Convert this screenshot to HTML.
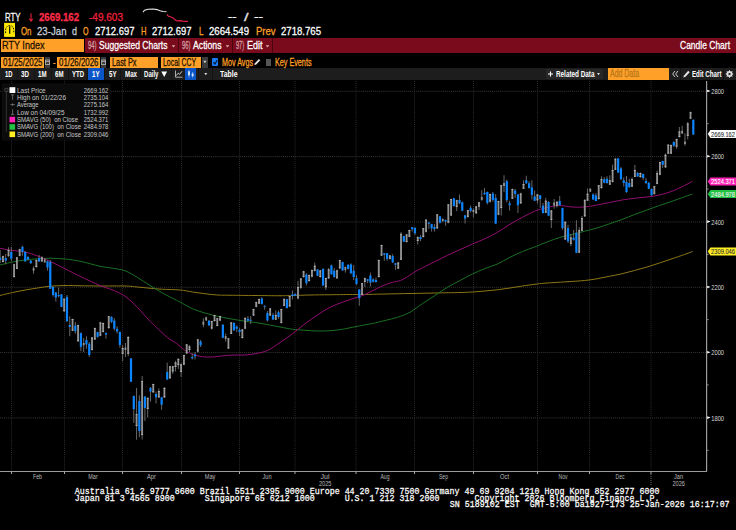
<!DOCTYPE html>
<html><head><meta charset="utf-8"><title>RTY Index - Candle Chart</title><style>
html,body{margin:0;padding:0;background:#000;}
body{width:736px;height:530px;overflow:hidden;position:relative;font-family:"Liberation Sans",sans-serif;}
.t{position:absolute;white-space:pre;transform-origin:0 0;line-height:1;display:block;-webkit-text-stroke:0.28px currentColor;}
.b{position:absolute;}
.f{position:absolute;margin:0;font-family:"Liberation Mono",monospace;font-size:8.33px;line-height:1;color:#fff;white-space:pre;transform-origin:0 80%;transform:scaleY(1.16);-webkit-text-stroke:0.22px #fff;}
</style></head>
<body>
<div class="b" style="left:0px;top:38.2px;width:736px;height:14.5px;background:#7a0b1c;"></div>
<div class="b" style="left:0px;top:38.2px;width:85px;height:14.5px;background:#000;"></div>
<div class="b" style="left:1px;top:39px;width:83.3px;height:13px;background:#ffa028;"></div>
<div class="b" style="left:178px;top:38.2px;width:1px;height:14.5px;background:#4a060f;"></div>
<div class="b" style="left:232px;top:38.2px;width:1px;height:14.5px;background:#4a060f;"></div>
<div class="b" style="left:272px;top:38.2px;width:1px;height:14.5px;background:#4a060f;"></div>
<div class="b" style="left:1px;top:56.5px;width:43.2px;height:11px;background:#ffa028;"></div>
<div class="b" style="left:44.9px;top:56.5px;width:5.3px;height:11px;background:#3a3a3a;"></div>
<div class="b" style="left:57px;top:56.5px;width:43.3px;height:11px;background:#ffa028;"></div>
<div class="b" style="left:101px;top:56.5px;width:5.3px;height:11px;background:#3a3a3a;"></div>
<div class="b" style="left:110.3px;top:56.5px;width:47.8px;height:11px;background:#ffa028;"></div>
<div class="b" style="left:161px;top:56.5px;width:40.2px;height:11px;background:#ffa028;"></div>
<div class="b" style="left:202px;top:56.5px;width:5.8px;height:11px;background:#3c3c3c;"></div>
<div class="b" style="left:212.1px;top:58.4px;width:6.2px;height:7.4px;background:#1a7cf4;border-radius:1px;"></div>
<div class="b" style="left:265.7px;top:58.8px;width:5.5px;height:7px;background:#565656;"></div>
<div class="b" style="left:0px;top:68.2px;width:736px;height:11.6px;background:#1d1d1d;"></div>
<div class="b" style="left:16.5px;top:68.2px;width:1px;height:11.6px;background:#141414;"></div>
<div class="b" style="left:33.5px;top:68.2px;width:1px;height:11.6px;background:#141414;"></div>
<div class="b" style="left:50.5px;top:68.2px;width:1px;height:11.6px;background:#141414;"></div>
<div class="b" style="left:67.5px;top:68.2px;width:1px;height:11.6px;background:#141414;"></div>
<div class="b" style="left:87px;top:68.2px;width:1px;height:11.6px;background:#141414;"></div>
<div class="b" style="left:104px;top:68.2px;width:1px;height:11.6px;background:#141414;"></div>
<div class="b" style="left:120px;top:68.2px;width:1px;height:11.6px;background:#141414;"></div>
<div class="b" style="left:140px;top:68.2px;width:1px;height:11.6px;background:#141414;"></div>
<div class="b" style="left:171px;top:68.2px;width:1px;height:11.6px;background:#141414;"></div>
<div class="b" style="left:198px;top:68.2px;width:1px;height:11.6px;background:#141414;"></div>
<div class="b" style="left:212px;top:68.2px;width:1px;height:11.6px;background:#141414;"></div>
<div class="b" style="left:88px;top:68.2px;width:15.7px;height:11.6px;background:#0a55c8;"></div>
<div class="b" style="left:185px;top:68.2px;width:11.3px;height:11.6px;background:#0a55c8;"></div>
<div class="b" style="left:545.5px;top:68.6px;width:57px;height:10.8px;background:#272727;"></div>
<div class="b" style="left:608px;top:68.4px;width:61px;height:11.2px;background:#ffa028;"></div>
<div class="b" style="left:679.5px;top:68.2px;width:1px;height:11.6px;background:#141414;"></div>
<div class="b" style="left:723px;top:68.2px;width:1px;height:11.6px;background:#141414;"></div>
<svg width="736" height="530" viewBox="0 0 736 530" style="position:absolute;left:0;top:0">
<path d="M31 13.2V20.8M29.2 18.8L31 21.2L32.8 18.8" stroke="#f0203c" stroke-width="1.05" fill="none"/>
<polyline points="143,12.3 144.5,10.2 148,9.3 153,9 157,9.6 160,10.8 163,11.5 166.5,11.7" fill="none" stroke="#e8e8e8" stroke-width="1.1"/>
<polyline points="167,14.5 168.5,16.3 171,17 173.5,18.2 175,19.8 177,21 180,20.6 183,21.1 188,21.3" fill="none" stroke="#e8204a" stroke-width="1.2"/>
<rect x="4.1" y="22.9" width="10.9" height="14" fill="#ffe800"/>
<path d="M9.7 26.3V33.8" stroke="#111" stroke-width="1.3" fill="none"/>
<path d="M5.6 33V30.5C5.6 27.5 7.2 25.5 9.7 25.5C12.2 25.5 13.8 27.5 13.8 30.5V33.6" stroke="#111" stroke-width="1" stroke-dasharray="1.6 1.2" fill="none"/>
<path d="M171.7 45.2h3.6l-1.8 2.4z" fill="#d8b0b6"/>
<path d="M225.7 45.2h3.6l-1.8 2.4z" fill="#d8b0b6"/>
<path d="M265.7 45.2h3.6l-1.8 2.4z" fill="#d8b0b6"/>
<rect x="45.6" y="60" width="3.8" height="4.6" fill="none" stroke="#bdbdbd" stroke-width="0.8"/><path d="M45.6 61.6h3.8" stroke="#bdbdbd" stroke-width="0.8"/>
<rect x="101.7" y="60" width="3.8" height="4.6" fill="none" stroke="#bdbdbd" stroke-width="0.8"/><path d="M101.7 61.6h3.8" stroke="#bdbdbd" stroke-width="0.8"/>
<path d="M203.3 60.8h3.2l-1.6 2.4z" fill="#d0d0d0"/>
<path d="M213.4 62.2l1.5 1.8l2.4-4" stroke="#06122e" stroke-width="1.1" fill="none"/>
<path d="M254.3 65.2l0.6-2l4-4.2l1.4 1.3l-4 4.2z" fill="#e6e6e6"/>
<path d="M161.3 71.5h5.8l-2.9 5.6z" fill="#fff"/>
<path d="M175.5 70.5V77.2H182.5" stroke="#bbb" stroke-width="0.9" fill="none"/><path d="M176.3 75.5l2-2.4l1.3 1.2l2.4-3" stroke="#ddd" stroke-width="0.9" fill="none"/>
<path d="M189 70v7.6M192.6 72v5.6" stroke="#9cc4ff" stroke-width="0.7"/><rect x="188" y="71.3" width="2" height="4" fill="#cfe2ff"/><rect x="191.7" y="73.6" width="1.9" height="2.6" fill="#cfe2ff"/>
<path d="M204.3 73h3l-1.5 2.3z" fill="#ddd"/>
<path d="M548 74h5M550.5 71.4v5.2" stroke="#fff" stroke-width="1.1"/>
<path d="M597 73h3l-1.5 2.3z" fill="#ddd"/>
<path d="M675 71l-2.3 3l2.3 3M678 71l-2.3 3l2.3 3" stroke="#e0e0e0" stroke-width="0.9" fill="none"/>
<path d="M683.3 77.6l0.7-2.2l4.2-4.6l1.5 1.4l-4.2 4.6z" fill="#e6e6e6"/>
<circle cx="729.5" cy="74" r="2.3" fill="none" stroke="#e0e0e0" stroke-width="1.5"/><path d="M729.5 70.2v7.6M725.7 74h7.6M726.8 71.3l5.4 5.4M732.2 71.3l-5.4 5.4" stroke="#e0e0e0" stroke-width="0.9"/><circle cx="729.5" cy="74" r="1" fill="#1e1e1e"/>
<path d="M0 91.3H706" stroke="#383836" stroke-width="1" stroke-dasharray="1 1.05"/>
<path d="M0 156.62H706" stroke="#383836" stroke-width="1" stroke-dasharray="1 1.05"/>
<path d="M0 221.94H706" stroke="#383836" stroke-width="1" stroke-dasharray="1 1.05"/>
<path d="M0 287.26H706" stroke="#383836" stroke-width="1" stroke-dasharray="1 1.05"/>
<path d="M0 352.58H706" stroke="#383836" stroke-width="1" stroke-dasharray="1 1.05"/>
<path d="M0 417.9H706" stroke="#383836" stroke-width="1" stroke-dasharray="1 1.05"/>
<path d="M11.5 81V471" stroke="#2a2a30" stroke-width="1" stroke-dasharray="1 1.05"/>
<path d="M11.5 471V474" stroke="#aaa" stroke-width="1"/>
<path d="M64.5 81V471" stroke="#2a2a30" stroke-width="1" stroke-dasharray="1 1.05"/>
<path d="M64.5 471V474" stroke="#aaa" stroke-width="1"/>
<path d="M122.5 81V471" stroke="#2a2a30" stroke-width="1" stroke-dasharray="1 1.05"/>
<path d="M122.5 471V474" stroke="#aaa" stroke-width="1"/>
<path d="M181.5 81V471" stroke="#2a2a30" stroke-width="1" stroke-dasharray="1 1.05"/>
<path d="M181.5 471V474" stroke="#aaa" stroke-width="1"/>
<path d="M239.5 81V471" stroke="#2a2a30" stroke-width="1" stroke-dasharray="1 1.05"/>
<path d="M239.5 471V474" stroke="#aaa" stroke-width="1"/>
<path d="M295 81V471" stroke="#2a2a30" stroke-width="1" stroke-dasharray="1 1.05"/>
<path d="M295 471V474" stroke="#aaa" stroke-width="1"/>
<path d="M356 81V471" stroke="#2a2a30" stroke-width="1" stroke-dasharray="1 1.05"/>
<path d="M356 471V474" stroke="#aaa" stroke-width="1"/>
<path d="M414.5 81V471" stroke="#2a2a30" stroke-width="1" stroke-dasharray="1 1.05"/>
<path d="M414.5 471V474" stroke="#aaa" stroke-width="1"/>
<path d="M473.5 81V471" stroke="#2a2a30" stroke-width="1" stroke-dasharray="1 1.05"/>
<path d="M473.5 471V474" stroke="#aaa" stroke-width="1"/>
<path d="M537.5 81V471" stroke="#2a2a30" stroke-width="1" stroke-dasharray="1 1.05"/>
<path d="M537.5 471V474" stroke="#aaa" stroke-width="1"/>
<path d="M589.5 81V471" stroke="#2a2a30" stroke-width="1" stroke-dasharray="1 1.05"/>
<path d="M589.5 471V474" stroke="#aaa" stroke-width="1"/>
<path d="M651 81V471" stroke="#2a2a30" stroke-width="1" stroke-dasharray="1 1.05"/>
<path d="M651 471V474" stroke="#aaa" stroke-width="1"/>
<path d="M651 474V485" stroke="#666" stroke-width="1" stroke-dasharray="1 1"/>
<path d="M706.6 81V471.5" stroke="#9c9c9c" stroke-width="1.2"/>
<path d="M0 471.5H707" stroke="#9c9c9c" stroke-width="1.1"/>
<path d="M707.2 89.7v2.6l3.4-1.3z" fill="#fff"/>
<text x="711.2" y="93.9" font-size="7.5" fill="#d8d8d8" textLength="12.9" lengthAdjust="spacingAndGlyphs">2800</text>
<path d="M707.2 155.0v2.6l3.4-1.3z" fill="#fff"/>
<text x="711.2" y="159.2" font-size="7.5" fill="#d8d8d8" textLength="12.9" lengthAdjust="spacingAndGlyphs">2600</text>
<path d="M707.2 220.3v2.6l3.4-1.3z" fill="#fff"/>
<text x="711.2" y="224.5" font-size="7.5" fill="#d8d8d8" textLength="12.9" lengthAdjust="spacingAndGlyphs">2400</text>
<path d="M707.2 285.7v2.6l3.4-1.3z" fill="#fff"/>
<text x="711.2" y="289.9" font-size="7.5" fill="#d8d8d8" textLength="12.9" lengthAdjust="spacingAndGlyphs">2200</text>
<path d="M707.2 351.0v2.6l3.4-1.3z" fill="#fff"/>
<text x="711.2" y="355.2" font-size="7.5" fill="#d8d8d8" textLength="12.9" lengthAdjust="spacingAndGlyphs">2000</text>
<path d="M707.2 416.3v2.6l3.4-1.3z" fill="#fff"/>
<text x="711.2" y="420.5" font-size="7.5" fill="#d8d8d8" textLength="12.9" lengthAdjust="spacingAndGlyphs">1800</text>
<path d="M707 123.7h1.6" stroke="#aaa" stroke-width="0.8"/>
<path d="M707 189.0h1.6" stroke="#aaa" stroke-width="0.8"/>
<path d="M707 254.3h1.6" stroke="#aaa" stroke-width="0.8"/>
<path d="M707 319.6h1.6" stroke="#aaa" stroke-width="0.8"/>
<path d="M707 384.9h1.6" stroke="#aaa" stroke-width="0.8"/>
<path d="M707 450.3h1.6" stroke="#aaa" stroke-width="0.8"/>
<path d="M0.00 295.50C2.08 295.00 8.33 293.42 12.50 292.50C16.67 291.58 20.83 290.75 25.00 290.00C29.17 289.25 33.33 288.62 37.50 288.00C41.67 287.38 45.42 286.67 50.00 286.25C54.58 285.83 60.00 285.58 65.00 285.50C70.00 285.42 74.17 285.67 80.00 285.75C85.83 285.83 92.50 285.96 100.00 286.00C107.50 286.04 118.75 285.83 125.00 286.00C131.25 286.17 133.33 286.62 137.50 287.00C141.67 287.38 145.83 287.88 150.00 288.25C154.17 288.62 157.50 288.96 162.50 289.25C167.50 289.54 175.00 289.54 180.00 290.00C185.00 290.46 188.33 291.38 192.50 292.00C196.67 292.62 200.83 293.25 205.00 293.75C209.17 294.25 213.33 294.75 217.50 295.00C221.67 295.25 223.75 295.17 230.00 295.25C236.25 295.33 246.67 295.42 255.00 295.50C263.33 295.58 273.75 295.75 280.00 295.75C286.25 295.75 287.50 295.62 292.50 295.50C297.50 295.38 303.75 295.12 310.00 295.00C316.25 294.88 322.50 294.83 330.00 294.75C337.50 294.67 349.33 294.54 355.00 294.50C360.67 294.46 359.00 294.58 364.00 294.50C369.00 294.42 377.33 294.17 385.00 294.00C392.67 293.83 401.67 293.67 410.00 293.50C418.33 293.33 426.67 293.17 435.00 293.00C443.33 292.83 453.75 292.67 460.00 292.50C466.25 292.33 468.33 292.25 472.50 292.00C476.67 291.75 480.83 291.38 485.00 291.00C489.17 290.62 493.33 290.25 497.50 289.75C501.67 289.25 505.83 288.62 510.00 288.00C514.17 287.38 518.33 286.62 522.50 286.00C526.67 285.38 531.42 284.71 535.00 284.25C538.58 283.79 540.67 283.54 544.00 283.25C547.33 282.96 551.17 282.75 555.00 282.50C558.83 282.25 562.08 282.08 567.00 281.75C571.92 281.42 579.50 281.00 584.50 280.50C589.50 280.00 592.83 279.46 597.00 278.75C601.17 278.04 605.33 277.08 609.50 276.25C613.67 275.42 617.83 274.71 622.00 273.75C626.17 272.79 630.33 271.62 634.50 270.50C638.67 269.38 642.83 268.25 647.00 267.00C651.17 265.75 655.33 264.38 659.50 263.00C663.67 261.62 667.83 260.17 672.00 258.75C676.17 257.33 681.08 255.71 684.50 254.50C687.92 253.29 691.17 252.00 692.50 251.50" fill="none" stroke="#8c7614" stroke-width="1" stroke-linejoin="round"/>
<path d="M0.00 265.00C2.08 264.50 8.33 262.83 12.50 262.00C16.67 261.17 20.83 260.54 25.00 260.00C29.17 259.46 33.33 259.04 37.50 258.75C41.67 258.46 45.42 258.21 50.00 258.25C54.58 258.29 60.00 258.50 65.00 259.00C70.00 259.50 74.17 260.04 80.00 261.25C85.83 262.46 94.58 265.08 100.00 266.25C105.42 267.42 108.33 267.50 112.50 268.25C116.67 269.00 120.83 269.21 125.00 270.75C129.17 272.29 133.33 275.04 137.50 277.50C141.67 279.96 145.83 282.92 150.00 285.50C154.17 288.08 158.33 290.67 162.50 293.00C166.67 295.33 172.08 298.00 175.00 299.50C177.92 301.00 177.08 300.46 180.00 302.00C182.92 303.54 188.33 306.92 192.50 308.75C196.67 310.58 200.83 311.75 205.00 313.00C209.17 314.25 213.33 315.29 217.50 316.25C221.67 317.21 225.42 317.92 230.00 318.75C234.58 319.58 240.00 320.50 245.00 321.25C250.00 322.00 254.17 322.29 260.00 323.25C265.83 324.21 274.58 326.00 280.00 327.00C285.42 328.00 288.33 328.71 292.50 329.25C296.67 329.79 300.83 329.96 305.00 330.25C309.17 330.54 313.33 330.92 317.50 331.00C321.67 331.08 325.83 331.04 330.00 330.75C334.17 330.46 338.33 329.92 342.50 329.25C346.67 328.58 351.42 327.46 355.00 326.75C358.58 326.04 361.08 325.54 364.00 325.00C366.92 324.46 369.00 324.25 372.50 323.50C376.00 322.75 380.83 321.54 385.00 320.50C389.17 319.46 393.33 318.62 397.50 317.25C401.67 315.88 405.83 314.54 410.00 312.25C414.17 309.96 418.33 306.29 422.50 303.50C426.67 300.71 430.83 298.21 435.00 295.50C439.17 292.79 443.33 289.75 447.50 287.25C451.67 284.75 455.83 282.71 460.00 280.50C464.17 278.29 468.33 276.00 472.50 274.00C476.67 272.00 480.83 270.17 485.00 268.50C489.17 266.83 493.33 265.88 497.50 264.00C501.67 262.12 505.83 259.33 510.00 257.25C514.17 255.17 518.42 253.21 522.50 251.50C526.58 249.79 530.42 248.58 534.50 247.00C538.58 245.42 542.83 243.58 547.00 242.00C551.17 240.42 555.33 238.75 559.50 237.50C563.67 236.25 567.83 235.54 572.00 234.50C576.17 233.46 580.33 232.33 584.50 231.25C588.67 230.17 592.83 229.25 597.00 228.00C601.17 226.75 605.33 225.17 609.50 223.75C613.67 222.33 617.83 221.04 622.00 219.50C626.17 217.96 630.33 216.08 634.50 214.50C638.67 212.92 642.83 211.50 647.00 210.00C651.17 208.50 655.33 206.96 659.50 205.50C663.67 204.04 667.83 202.71 672.00 201.25C676.17 199.79 681.08 197.96 684.50 196.75C687.92 195.54 691.17 194.46 692.50 194.00" fill="none" stroke="#197022" stroke-width="1" stroke-linejoin="round"/>
<path d="M0.00 248.30C1.88 248.63 7.08 249.68 11.25 250.30C15.42 250.92 20.62 251.05 25.00 252.00C29.38 252.95 33.33 254.46 37.50 256.00C41.67 257.54 45.42 259.12 50.00 261.25C54.58 263.38 60.00 266.25 65.00 268.75C70.00 271.25 74.17 273.46 80.00 276.25C85.83 279.04 94.58 283.21 100.00 285.50C105.42 287.79 108.33 288.21 112.50 290.00C116.67 291.79 120.83 293.33 125.00 296.25C129.17 299.17 133.33 303.33 137.50 307.50C141.67 311.67 146.46 317.58 150.00 321.25C153.54 324.92 155.83 326.77 158.75 329.50C161.67 332.23 164.58 335.31 167.50 337.60C170.42 339.89 173.92 341.58 176.25 343.25C178.58 344.92 179.62 346.14 181.50 347.60C183.38 349.06 185.46 350.81 187.50 352.00C189.54 353.19 191.25 353.96 193.75 354.75C196.25 355.54 199.38 356.38 202.50 356.75C205.62 357.12 209.38 357.12 212.50 357.00C215.62 356.88 218.00 356.32 221.25 356.00C224.50 355.68 228.04 355.27 232.00 355.10C235.96 354.93 241.17 355.23 245.00 355.00C248.83 354.77 251.25 354.50 255.00 353.75C258.75 353.00 263.33 352.38 267.50 350.50C271.67 348.62 275.83 345.29 280.00 342.50C284.17 339.71 288.33 336.88 292.50 333.75C296.67 330.62 300.83 326.88 305.00 323.75C309.17 320.62 313.33 317.74 317.50 315.00C321.67 312.26 325.83 309.43 330.00 307.30C334.17 305.17 338.33 303.75 342.50 302.20C346.67 300.65 351.25 299.28 355.00 298.00C358.75 296.72 361.25 296.12 365.00 294.50C368.75 292.88 373.33 290.17 377.50 288.25C381.67 286.33 386.46 284.21 390.00 283.00C393.54 281.79 396.25 281.79 398.75 281.00C401.25 280.21 402.29 279.79 405.00 278.25C407.71 276.71 412.08 273.49 415.00 271.75C417.92 270.01 419.17 269.51 422.50 267.80C425.83 266.09 430.83 263.58 435.00 261.50C439.17 259.42 443.33 257.28 447.50 255.30C451.67 253.32 455.83 251.48 460.00 249.60C464.17 247.72 468.33 245.82 472.50 244.00C476.67 242.18 480.83 240.66 485.00 238.70C489.17 236.74 493.33 234.66 497.50 232.25C501.67 229.84 505.83 226.75 510.00 224.25C514.17 221.75 518.42 219.42 522.50 217.25C526.58 215.08 530.42 212.88 534.50 211.25C538.58 209.62 542.83 208.46 547.00 207.50C551.17 206.54 555.33 205.58 559.50 205.50C563.67 205.42 567.83 206.75 572.00 207.00C576.17 207.25 580.33 207.33 584.50 207.00C588.67 206.67 592.83 205.75 597.00 205.00C601.17 204.25 605.33 203.33 609.50 202.50C613.67 201.67 617.83 200.71 622.00 200.00C626.17 199.29 630.33 198.75 634.50 198.25C638.67 197.75 642.83 197.54 647.00 197.00C651.17 196.46 655.33 195.96 659.50 195.00C663.67 194.04 667.83 192.83 672.00 191.25C676.17 189.67 681.08 187.17 684.50 185.50C687.92 183.83 691.17 181.96 692.50 181.25" fill="none" stroke="#920e72" stroke-width="1" stroke-linejoin="round"/>
<path d="M0.17 250.0V263.0" stroke="#737373" stroke-width="0.9"/>
<rect x="-0.93" y="257.5" width="2.2" height="2.50" fill="#0a84ff"/>
<path d="M2.95 255.6V262.5" stroke="#737373" stroke-width="0.9"/>
<rect x="2.05" y="256.25" width="1.8" height="5.65" fill="#939393"/>
<rect x="2.05" y="256.25" width="1.8" height="0.9" fill="#b2b2b2"/>
<rect x="2.05" y="261.00" width="1.8" height="0.9" fill="#b2b2b2"/>
<path d="M5.74 253.75V264.4" stroke="#737373" stroke-width="0.9"/>
<rect x="4.64" y="258.1" width="2.2" height="2.50" fill="#0a84ff"/>
<path d="M8.52 247.25V256.9" stroke="#737373" stroke-width="0.9"/>
<rect x="7.62" y="250.0" width="1.8" height="5.60" fill="#939393"/>
<rect x="7.62" y="250.0" width="1.8" height="0.9" fill="#b2b2b2"/>
<rect x="7.62" y="254.70" width="1.8" height="0.9" fill="#b2b2b2"/>
<path d="M11.30 246.9V261.25" stroke="#737373" stroke-width="0.9"/>
<rect x="10.20" y="251.9" width="2.2" height="6.85" fill="#0a84ff"/>
<path d="M14.09 263.75V277.5" stroke="#737373" stroke-width="0.9"/>
<rect x="13.19" y="264.4" width="1.8" height="12.50" fill="#939393"/>
<rect x="13.19" y="264.4" width="1.8" height="0.9" fill="#b2b2b2"/>
<rect x="13.19" y="276.00" width="1.8" height="0.9" fill="#b2b2b2"/>
<path d="M16.87 257.25V269.0" stroke="#737373" stroke-width="0.9"/>
<rect x="15.97" y="257.5" width="1.8" height="11.25" fill="#939393"/>
<rect x="15.97" y="257.5" width="1.8" height="0.9" fill="#b2b2b2"/>
<rect x="15.97" y="267.85" width="1.8" height="0.9" fill="#b2b2b2"/>
<path d="M19.66 248.75V256.25" stroke="#737373" stroke-width="0.9"/>
<rect x="18.76" y="249.4" width="1.8" height="6.20" fill="#939393"/>
<rect x="18.76" y="249.4" width="1.8" height="0.9" fill="#b2b2b2"/>
<rect x="18.76" y="254.70" width="1.8" height="0.9" fill="#b2b2b2"/>
<path d="M22.44 245.6V255.6" stroke="#737373" stroke-width="0.9"/>
<rect x="21.34" y="246.9" width="2.2" height="5.00" fill="#0a84ff"/>
<path d="M25.22 251.0V261.9" stroke="#737373" stroke-width="0.9"/>
<rect x="24.12" y="251.9" width="2.2" height="9.35" fill="#0a84ff"/>
<path d="M28.01 256.25V260.6" stroke="#737373" stroke-width="0.9"/>
<rect x="26.91" y="256.9" width="2.2" height="2.50" fill="#0a84ff"/>
<path d="M30.79 260.0V264.0" stroke="#737373" stroke-width="0.9"/>
<rect x="29.69" y="260.6" width="2.2" height="2.50" fill="#0a84ff"/>
<path d="M33.57 266.25V273.75" stroke="#737373" stroke-width="0.9"/>
<rect x="32.67" y="268.1" width="1.8" height="2.50" fill="#939393"/>
<path d="M36.36 259.4V267.75" stroke="#737373" stroke-width="0.9"/>
<rect x="35.46" y="260.0" width="1.8" height="6.90" fill="#939393"/>
<rect x="35.46" y="260.0" width="1.8" height="0.9" fill="#b2b2b2"/>
<rect x="35.46" y="266.00" width="1.8" height="0.9" fill="#b2b2b2"/>
<path d="M39.14 255.0V261.9" stroke="#737373" stroke-width="0.9"/>
<rect x="38.04" y="258.1" width="2.2" height="3.40" fill="#0a84ff"/>
<path d="M41.93 256.25V261.9" stroke="#737373" stroke-width="0.9"/>
<rect x="41.03" y="257.5" width="1.8" height="3.75" fill="#939393"/>
<rect x="41.03" y="257.5" width="1.8" height="0.9" fill="#b2b2b2"/>
<rect x="41.03" y="260.35" width="1.8" height="0.9" fill="#b2b2b2"/>
<path d="M44.71 258.1V262.75" stroke="#737373" stroke-width="0.9"/>
<rect x="43.81" y="259.4" width="1.8" height="3.10" fill="#939393"/>
<path d="M47.49 260.6V270.6" stroke="#737373" stroke-width="0.9"/>
<rect x="46.39" y="261.25" width="2.2" height="6.25" fill="#0a84ff"/>
<path d="M50.28 260.0V289.0" stroke="#737373" stroke-width="0.9"/>
<rect x="49.18" y="261.9" width="2.2" height="26.85" fill="#0a84ff"/>
<path d="M53.06 286.5V296.5" stroke="#737373" stroke-width="0.9"/>
<rect x="51.96" y="287.0" width="2.2" height="8.00" fill="#0a84ff"/>
<path d="M55.84 292.0V301.5" stroke="#737373" stroke-width="0.9"/>
<rect x="54.74" y="292.5" width="2.2" height="5.00" fill="#0a84ff"/>
<path d="M58.63 287.5V297.5" stroke="#737373" stroke-width="0.9"/>
<rect x="57.53" y="295.0" width="2.2" height="1.00" fill="#0a84ff"/>
<path d="M61.41 294.0V307.25" stroke="#737373" stroke-width="0.9"/>
<rect x="60.31" y="294.4" width="2.2" height="12.50" fill="#0a84ff"/>
<path d="M64.20 298.5V311.5" stroke="#737373" stroke-width="0.9"/>
<rect x="63.30" y="298.75" width="1.8" height="12.50" fill="#939393"/>
<rect x="63.30" y="298.75" width="1.8" height="0.9" fill="#b2b2b2"/>
<rect x="63.30" y="310.35" width="1.8" height="0.9" fill="#b2b2b2"/>
<path d="M66.98 295.0V321.9" stroke="#737373" stroke-width="0.9"/>
<rect x="65.88" y="296.9" width="2.2" height="24.35" fill="#0a84ff"/>
<path d="M69.76 316.25V336.25" stroke="#737373" stroke-width="0.9"/>
<rect x="68.66" y="325.0" width="2.2" height="1.90" fill="#0a84ff"/>
<path d="M72.55 318.75V331.0" stroke="#737373" stroke-width="0.9"/>
<rect x="71.65" y="319.0" width="1.8" height="11.60" fill="#939393"/>
<rect x="71.65" y="319.0" width="1.8" height="0.9" fill="#b2b2b2"/>
<rect x="71.65" y="329.70" width="1.8" height="0.9" fill="#b2b2b2"/>
<path d="M75.33 321.9V333.75" stroke="#737373" stroke-width="0.9"/>
<rect x="74.23" y="325.6" width="2.2" height="5.65" fill="#0a84ff"/>
<path d="M78.11 324.5V341.5" stroke="#737373" stroke-width="0.9"/>
<rect x="77.21" y="325.0" width="1.8" height="16.25" fill="#939393"/>
<rect x="77.21" y="325.0" width="1.8" height="0.9" fill="#b2b2b2"/>
<rect x="77.21" y="340.35" width="1.8" height="0.9" fill="#b2b2b2"/>
<path d="M80.90 332.5V351.25" stroke="#737373" stroke-width="0.9"/>
<rect x="79.80" y="333.1" width="2.2" height="13.80" fill="#0a84ff"/>
<path d="M83.68 338.0V352.0" stroke="#737373" stroke-width="0.9"/>
<rect x="82.78" y="343.0" width="1.8" height="2.20" fill="#939393"/>
<path d="M86.46 336.25V348.75" stroke="#737373" stroke-width="0.9"/>
<rect x="85.36" y="340.0" width="2.2" height="4.40" fill="#0a84ff"/>
<path d="M89.25 341.9V356.9" stroke="#737373" stroke-width="0.9"/>
<rect x="88.15" y="343.75" width="2.2" height="11.25" fill="#0a84ff"/>
<path d="M92.03 337.0V350.6" stroke="#737373" stroke-width="0.9"/>
<rect x="91.13" y="337.5" width="1.8" height="12.50" fill="#939393"/>
<rect x="91.13" y="337.5" width="1.8" height="0.9" fill="#b2b2b2"/>
<rect x="91.13" y="349.10" width="1.8" height="0.9" fill="#b2b2b2"/>
<path d="M94.82 327.5V340.0" stroke="#737373" stroke-width="0.9"/>
<rect x="93.92" y="328.1" width="1.8" height="11.30" fill="#939393"/>
<rect x="93.92" y="328.1" width="1.8" height="0.9" fill="#b2b2b2"/>
<rect x="93.92" y="338.50" width="1.8" height="0.9" fill="#b2b2b2"/>
<path d="M97.60 331.9V337.75" stroke="#737373" stroke-width="0.9"/>
<rect x="96.50" y="332.0" width="2.2" height="4.90" fill="#0a84ff"/>
<path d="M100.38 321.9V336.25" stroke="#737373" stroke-width="0.9"/>
<rect x="99.48" y="322.5" width="1.8" height="13.10" fill="#939393"/>
<rect x="99.48" y="322.5" width="1.8" height="0.9" fill="#b2b2b2"/>
<rect x="99.48" y="334.70" width="1.8" height="0.9" fill="#b2b2b2"/>
<path d="M103.17 322.5V332.5" stroke="#737373" stroke-width="0.9"/>
<rect x="102.27" y="323.1" width="1.8" height="8.90" fill="#939393"/>
<rect x="102.27" y="323.1" width="1.8" height="0.9" fill="#b2b2b2"/>
<rect x="102.27" y="331.10" width="1.8" height="0.9" fill="#b2b2b2"/>
<path d="M105.95 332.5V338.75" stroke="#737373" stroke-width="0.9"/>
<rect x="104.85" y="333.0" width="2.2" height="1.50" fill="#0a84ff"/>
<path d="M108.73 316.0V328.5" stroke="#737373" stroke-width="0.9"/>
<rect x="107.83" y="316.25" width="1.8" height="11.85" fill="#939393"/>
<rect x="107.83" y="316.25" width="1.8" height="0.9" fill="#b2b2b2"/>
<rect x="107.83" y="327.20" width="1.8" height="0.9" fill="#b2b2b2"/>
<path d="M111.52 316.25V323.1" stroke="#737373" stroke-width="0.9"/>
<rect x="110.42" y="316.9" width="2.2" height="5.00" fill="#0a84ff"/>
<path d="M114.30 318.1V330.6" stroke="#737373" stroke-width="0.9"/>
<rect x="113.20" y="320.6" width="2.2" height="8.15" fill="#0a84ff"/>
<path d="M117.09 326.25V333.5" stroke="#737373" stroke-width="0.9"/>
<rect x="115.99" y="328.75" width="2.2" height="2.65" fill="#0a84ff"/>
<path d="M119.87 331.5V347.75" stroke="#737373" stroke-width="0.9"/>
<rect x="118.77" y="331.9" width="2.2" height="13.10" fill="#0a84ff"/>
<path d="M122.65 345.0V361.25" stroke="#737373" stroke-width="0.9"/>
<rect x="121.75" y="348.0" width="1.8" height="5.75" fill="#939393"/>
<rect x="121.75" y="348.0" width="1.8" height="0.9" fill="#b2b2b2"/>
<rect x="121.75" y="352.85" width="1.8" height="0.9" fill="#b2b2b2"/>
<path d="M125.44 343.0V357.0" stroke="#737373" stroke-width="0.9"/>
<rect x="124.54" y="347.5" width="1.8" height="2.50" fill="#939393"/>
<path d="M128.22 336.5V356.25" stroke="#737373" stroke-width="0.9"/>
<rect x="127.32" y="336.9" width="1.8" height="16.85" fill="#939393"/>
<rect x="127.32" y="336.9" width="1.8" height="0.9" fill="#b2b2b2"/>
<rect x="127.32" y="352.85" width="1.8" height="0.9" fill="#b2b2b2"/>
<path d="M131.00 358.0V382.0" stroke="#737373" stroke-width="0.9"/>
<rect x="129.90" y="358.5" width="2.2" height="23.25" fill="#0a84ff"/>
<path d="M133.79 395.5V422.9" stroke="#737373" stroke-width="0.9"/>
<rect x="132.69" y="396.0" width="2.2" height="13.10" fill="#0a84ff"/>
<path d="M136.57 387.9V439.75" stroke="#737373" stroke-width="0.9"/>
<rect x="135.67" y="414.1" width="1.8" height="11.90" fill="#939393"/>
<rect x="135.67" y="414.1" width="1.8" height="0.9" fill="#b2b2b2"/>
<rect x="135.67" y="425.10" width="1.8" height="0.9" fill="#b2b2b2"/>
<path d="M139.35 395.4V437.25" stroke="#737373" stroke-width="0.9"/>
<rect x="138.25" y="401.0" width="2.2" height="30.00" fill="#0a84ff"/>
<path d="M142.14 376.0V439.5" stroke="#737373" stroke-width="0.9"/>
<rect x="141.24" y="381.0" width="1.8" height="54.00" fill="#939393"/>
<rect x="141.24" y="381.0" width="1.8" height="0.9" fill="#b2b2b2"/>
<rect x="141.24" y="434.10" width="1.8" height="0.9" fill="#b2b2b2"/>
<path d="M144.92 396.0V421.0" stroke="#737373" stroke-width="0.9"/>
<rect x="143.82" y="396.6" width="2.2" height="11.30" fill="#0a84ff"/>
<path d="M147.71 397.5V417.25" stroke="#737373" stroke-width="0.9"/>
<rect x="146.81" y="397.9" width="1.8" height="11.10" fill="#939393"/>
<rect x="146.81" y="397.9" width="1.8" height="0.9" fill="#b2b2b2"/>
<rect x="146.81" y="408.10" width="1.8" height="0.9" fill="#b2b2b2"/>
<path d="M150.49 387.0V401.6" stroke="#737373" stroke-width="0.9"/>
<rect x="149.39" y="387.9" width="2.2" height="3.70" fill="#0a84ff"/>
<path d="M153.27 383.75V392.9" stroke="#737373" stroke-width="0.9"/>
<rect x="152.37" y="384.0" width="1.8" height="8.25" fill="#939393"/>
<rect x="152.37" y="384.0" width="1.8" height="0.9" fill="#b2b2b2"/>
<rect x="152.37" y="391.35" width="1.8" height="0.9" fill="#b2b2b2"/>
<path d="M156.06 391.6V403.5" stroke="#737373" stroke-width="0.9"/>
<rect x="154.96" y="394.0" width="2.2" height="3.25" fill="#0a84ff"/>
<path d="M158.84 388.5V398.0" stroke="#737373" stroke-width="0.9"/>
<rect x="157.94" y="391.0" width="1.8" height="6.25" fill="#939393"/>
<rect x="157.94" y="391.0" width="1.8" height="0.9" fill="#b2b2b2"/>
<rect x="157.94" y="396.35" width="1.8" height="0.9" fill="#b2b2b2"/>
<path d="M161.62 397.0V409.75" stroke="#737373" stroke-width="0.9"/>
<rect x="160.52" y="397.25" width="2.2" height="7.50" fill="#0a84ff"/>
<path d="M164.41 387.25V398.0" stroke="#737373" stroke-width="0.9"/>
<rect x="163.51" y="387.9" width="1.8" height="9.35" fill="#939393"/>
<rect x="163.51" y="387.9" width="1.8" height="0.9" fill="#b2b2b2"/>
<rect x="163.51" y="396.35" width="1.8" height="0.9" fill="#b2b2b2"/>
<path d="M167.19 362.6V379.75" stroke="#737373" stroke-width="0.9"/>
<rect x="166.09" y="372.0" width="2.2" height="7.50" fill="#0a84ff"/>
<path d="M169.98 366.0V378.5" stroke="#737373" stroke-width="0.9"/>
<rect x="169.08" y="366.4" width="1.8" height="11.85" fill="#939393"/>
<rect x="169.08" y="366.4" width="1.8" height="0.9" fill="#b2b2b2"/>
<rect x="169.08" y="377.35" width="1.8" height="0.9" fill="#b2b2b2"/>
<path d="M172.76 365.75V373.9" stroke="#737373" stroke-width="0.9"/>
<rect x="171.86" y="366.4" width="1.8" height="5.00" fill="#939393"/>
<rect x="171.86" y="366.4" width="1.8" height="0.9" fill="#b2b2b2"/>
<rect x="171.86" y="370.50" width="1.8" height="0.9" fill="#b2b2b2"/>
<path d="M175.54 360.75V371.4" stroke="#737373" stroke-width="0.9"/>
<rect x="174.64" y="362.6" width="1.8" height="4.40" fill="#939393"/>
<rect x="174.64" y="362.6" width="1.8" height="0.9" fill="#b2b2b2"/>
<rect x="174.64" y="366.10" width="1.8" height="0.9" fill="#b2b2b2"/>
<path d="M178.33 358.25V368.9" stroke="#737373" stroke-width="0.9"/>
<rect x="177.43" y="358.9" width="1.8" height="6.20" fill="#939393"/>
<rect x="177.43" y="358.9" width="1.8" height="0.9" fill="#b2b2b2"/>
<rect x="177.43" y="364.20" width="1.8" height="0.9" fill="#b2b2b2"/>
<path d="M181.11 363.25V377.0" stroke="#737373" stroke-width="0.9"/>
<rect x="180.21" y="364.5" width="1.8" height="7.50" fill="#939393"/>
<rect x="180.21" y="364.5" width="1.8" height="0.9" fill="#b2b2b2"/>
<rect x="180.21" y="371.10" width="1.8" height="0.9" fill="#b2b2b2"/>
<path d="M183.89 354.75V365.1" stroke="#737373" stroke-width="0.9"/>
<rect x="182.99" y="355.1" width="1.8" height="9.40" fill="#939393"/>
<rect x="182.99" y="355.1" width="1.8" height="0.9" fill="#b2b2b2"/>
<rect x="182.99" y="363.60" width="1.8" height="0.9" fill="#b2b2b2"/>
<path d="M186.68 343.9V353.9" stroke="#737373" stroke-width="0.9"/>
<rect x="185.78" y="344.5" width="1.8" height="8.75" fill="#939393"/>
<rect x="185.78" y="344.5" width="1.8" height="0.9" fill="#b2b2b2"/>
<rect x="185.78" y="352.35" width="1.8" height="0.9" fill="#b2b2b2"/>
<path d="M189.46 345.1V352.0" stroke="#737373" stroke-width="0.9"/>
<rect x="188.56" y="346.5" width="1.8" height="3.50" fill="#939393"/>
<rect x="188.56" y="346.5" width="1.8" height="0.9" fill="#b2b2b2"/>
<rect x="188.56" y="349.10" width="1.8" height="0.9" fill="#b2b2b2"/>
<path d="M192.25 353.25V359.5" stroke="#737373" stroke-width="0.9"/>
<rect x="191.15" y="357.0" width="2.2" height="1.25" fill="#0a84ff"/>
<path d="M195.03 352.0V359.5" stroke="#737373" stroke-width="0.9"/>
<rect x="193.93" y="354.5" width="2.2" height="1.90" fill="#0a84ff"/>
<path d="M197.81 339.0V352.6" stroke="#737373" stroke-width="0.9"/>
<rect x="196.91" y="339.5" width="1.8" height="11.90" fill="#939393"/>
<rect x="196.91" y="339.5" width="1.8" height="0.9" fill="#b2b2b2"/>
<rect x="196.91" y="350.50" width="1.8" height="0.9" fill="#b2b2b2"/>
<path d="M200.60 340.0V347.0" stroke="#737373" stroke-width="0.9"/>
<rect x="199.50" y="341.5" width="2.2" height="3.70" fill="#0a84ff"/>
<path d="M203.38 318.25V327.25" stroke="#737373" stroke-width="0.9"/>
<rect x="202.48" y="321.6" width="1.8" height="3.15" fill="#939393"/>
<path d="M206.16 316.6V321.0" stroke="#737373" stroke-width="0.9"/>
<rect x="205.26" y="317.25" width="1.8" height="3.15" fill="#939393"/>
<path d="M208.95 320.0V325.75" stroke="#737373" stroke-width="0.9"/>
<rect x="207.85" y="320.75" width="2.2" height="4.65" fill="#0a84ff"/>
<path d="M211.73 320.75V329.5" stroke="#737373" stroke-width="0.9"/>
<rect x="210.83" y="321.0" width="1.8" height="7.50" fill="#939393"/>
<rect x="210.83" y="321.0" width="1.8" height="0.9" fill="#b2b2b2"/>
<rect x="210.83" y="327.60" width="1.8" height="0.9" fill="#b2b2b2"/>
<path d="M214.51 314.75V321.6" stroke="#737373" stroke-width="0.9"/>
<rect x="213.61" y="315.0" width="1.8" height="6.00" fill="#939393"/>
<rect x="213.61" y="315.0" width="1.8" height="0.9" fill="#b2b2b2"/>
<rect x="213.61" y="320.10" width="1.8" height="0.9" fill="#b2b2b2"/>
<path d="M217.30 318.0V326.25" stroke="#737373" stroke-width="0.9"/>
<rect x="216.40" y="318.25" width="1.8" height="7.75" fill="#939393"/>
<rect x="216.40" y="318.25" width="1.8" height="0.9" fill="#b2b2b2"/>
<rect x="216.40" y="325.10" width="1.8" height="0.9" fill="#b2b2b2"/>
<path d="M220.08 315.75V321.25" stroke="#737373" stroke-width="0.9"/>
<rect x="219.18" y="316.0" width="1.8" height="4.40" fill="#939393"/>
<rect x="219.18" y="316.0" width="1.8" height="0.9" fill="#b2b2b2"/>
<rect x="219.18" y="319.50" width="1.8" height="0.9" fill="#b2b2b2"/>
<path d="M222.87 324.1V338.25" stroke="#737373" stroke-width="0.9"/>
<rect x="221.77" y="324.75" width="2.2" height="13.00" fill="#0a84ff"/>
<path d="M225.65 333.5V341.6" stroke="#737373" stroke-width="0.9"/>
<rect x="224.75" y="336.0" width="1.8" height="3.00" fill="#939393"/>
<path d="M228.43 337.9V349.1" stroke="#737373" stroke-width="0.9"/>
<rect x="227.53" y="338.5" width="1.8" height="9.90" fill="#939393"/>
<rect x="227.53" y="338.5" width="1.8" height="0.9" fill="#b2b2b2"/>
<rect x="227.53" y="347.50" width="1.8" height="0.9" fill="#b2b2b2"/>
<path d="M231.22 322.0V334.0" stroke="#737373" stroke-width="0.9"/>
<rect x="230.32" y="322.5" width="1.8" height="11.25" fill="#939393"/>
<rect x="230.32" y="322.5" width="1.8" height="0.9" fill="#b2b2b2"/>
<rect x="230.32" y="332.85" width="1.8" height="0.9" fill="#b2b2b2"/>
<path d="M234.00 322.25V330.75" stroke="#737373" stroke-width="0.9"/>
<rect x="232.90" y="322.9" width="2.2" height="7.50" fill="#0a84ff"/>
<path d="M236.78 325.4V332.25" stroke="#737373" stroke-width="0.9"/>
<rect x="235.68" y="326.6" width="2.2" height="2.15" fill="#0a84ff"/>
<path d="M239.57 327.9V336.0" stroke="#737373" stroke-width="0.9"/>
<rect x="238.47" y="329.75" width="2.2" height="2.25" fill="#0a84ff"/>
<path d="M242.35 329.1V338.5" stroke="#737373" stroke-width="0.9"/>
<rect x="241.45" y="329.5" width="1.8" height="8.40" fill="#939393"/>
<rect x="241.45" y="329.5" width="1.8" height="0.9" fill="#b2b2b2"/>
<rect x="241.45" y="337.00" width="1.8" height="0.9" fill="#b2b2b2"/>
<path d="M245.14 317.25V329.1" stroke="#737373" stroke-width="0.9"/>
<rect x="244.24" y="317.9" width="1.8" height="10.60" fill="#939393"/>
<rect x="244.24" y="317.9" width="1.8" height="0.9" fill="#b2b2b2"/>
<rect x="244.24" y="327.60" width="1.8" height="0.9" fill="#b2b2b2"/>
<path d="M247.92 316.0V321.25" stroke="#737373" stroke-width="0.9"/>
<rect x="246.82" y="318.75" width="2.2" height="2.00" fill="#0a84ff"/>
<path d="M250.70 316.0V324.1" stroke="#737373" stroke-width="0.9"/>
<rect x="249.60" y="319.75" width="2.2" height="1.00" fill="#0a84ff"/>
<path d="M253.49 308.9V316.0" stroke="#737373" stroke-width="0.9"/>
<rect x="252.59" y="309.1" width="1.8" height="6.30" fill="#939393"/>
<rect x="252.59" y="309.1" width="1.8" height="0.9" fill="#b2b2b2"/>
<rect x="252.59" y="314.50" width="1.8" height="0.9" fill="#b2b2b2"/>
<path d="M256.27 301.6V307.25" stroke="#737373" stroke-width="0.9"/>
<rect x="255.37" y="302.25" width="1.8" height="4.35" fill="#939393"/>
<rect x="255.37" y="302.25" width="1.8" height="0.9" fill="#b2b2b2"/>
<rect x="255.37" y="305.70" width="1.8" height="0.9" fill="#b2b2b2"/>
<path d="M259.05 298.5V304.1" stroke="#737373" stroke-width="0.9"/>
<rect x="258.15" y="299.1" width="1.8" height="4.40" fill="#939393"/>
<rect x="258.15" y="299.1" width="1.8" height="0.9" fill="#b2b2b2"/>
<rect x="258.15" y="302.60" width="1.8" height="0.9" fill="#b2b2b2"/>
<path d="M261.84 297.25V304.5" stroke="#737373" stroke-width="0.9"/>
<rect x="260.74" y="298.5" width="2.2" height="5.60" fill="#0a84ff"/>
<path d="M264.62 305.4V309.75" stroke="#737373" stroke-width="0.9"/>
<rect x="263.52" y="305.75" width="2.2" height="1.00" fill="#0a84ff"/>
<path d="M267.41 311.0V321.6" stroke="#737373" stroke-width="0.9"/>
<rect x="266.31" y="312.9" width="2.2" height="7.50" fill="#0a84ff"/>
<path d="M270.19 308.25V316.0" stroke="#737373" stroke-width="0.9"/>
<rect x="269.29" y="308.5" width="1.8" height="6.90" fill="#939393"/>
<rect x="269.29" y="308.5" width="1.8" height="0.9" fill="#b2b2b2"/>
<rect x="269.29" y="314.50" width="1.8" height="0.9" fill="#b2b2b2"/>
<path d="M272.97 312.9V320.0" stroke="#737373" stroke-width="0.9"/>
<rect x="271.87" y="315.0" width="2.2" height="4.50" fill="#0a84ff"/>
<path d="M275.76 310.4V320.0" stroke="#737373" stroke-width="0.9"/>
<rect x="274.86" y="315.0" width="1.8" height="4.50" fill="#939393"/>
<rect x="274.86" y="315.0" width="1.8" height="0.9" fill="#b2b2b2"/>
<rect x="274.86" y="318.60" width="1.8" height="0.9" fill="#b2b2b2"/>
<path d="M278.54 310.4V318.75" stroke="#737373" stroke-width="0.9"/>
<rect x="277.44" y="312.25" width="2.2" height="4.75" fill="#0a84ff"/>
<path d="M281.32 308.9V323.5" stroke="#737373" stroke-width="0.9"/>
<rect x="280.42" y="309.1" width="1.8" height="13.80" fill="#939393"/>
<rect x="280.42" y="309.1" width="1.8" height="0.9" fill="#b2b2b2"/>
<rect x="280.42" y="322.00" width="1.8" height="0.9" fill="#b2b2b2"/>
<path d="M284.11 298.5V306.0" stroke="#737373" stroke-width="0.9"/>
<rect x="283.21" y="298.9" width="1.8" height="6.85" fill="#939393"/>
<rect x="283.21" y="298.9" width="1.8" height="0.9" fill="#b2b2b2"/>
<rect x="283.21" y="304.85" width="1.8" height="0.9" fill="#b2b2b2"/>
<path d="M286.89 299.0V308.5" stroke="#737373" stroke-width="0.9"/>
<rect x="285.79" y="299.25" width="2.2" height="8.75" fill="#0a84ff"/>
<path d="M289.67 295.75V306.75" stroke="#737373" stroke-width="0.9"/>
<rect x="288.77" y="296.0" width="1.8" height="10.40" fill="#939393"/>
<rect x="288.77" y="296.0" width="1.8" height="0.9" fill="#b2b2b2"/>
<rect x="288.77" y="305.50" width="1.8" height="0.9" fill="#b2b2b2"/>
<path d="M292.46 290.5V299.5" stroke="#737373" stroke-width="0.9"/>
<rect x="291.36" y="294.5" width="2.2" height="1.50" fill="#0a84ff"/>
<path d="M295.24 293.5V296.0" stroke="#737373" stroke-width="0.9"/>
<rect x="294.14" y="293.9" width="2.2" height="1.85" fill="#0a84ff"/>
<path d="M298.03 280.75V299.5" stroke="#737373" stroke-width="0.9"/>
<rect x="297.13" y="287.0" width="1.8" height="11.25" fill="#939393"/>
<rect x="297.13" y="287.0" width="1.8" height="0.9" fill="#b2b2b2"/>
<rect x="297.13" y="297.35" width="1.8" height="0.9" fill="#b2b2b2"/>
<path d="M300.81 278.25V288.9" stroke="#737373" stroke-width="0.9"/>
<rect x="299.91" y="278.5" width="1.8" height="9.10" fill="#939393"/>
<rect x="299.91" y="278.5" width="1.8" height="0.9" fill="#b2b2b2"/>
<rect x="299.91" y="286.70" width="1.8" height="0.9" fill="#b2b2b2"/>
<path d="M303.59 270.75V277.6" stroke="#737373" stroke-width="0.9"/>
<rect x="302.69" y="271.4" width="1.8" height="5.60" fill="#939393"/>
<rect x="302.69" y="271.4" width="1.8" height="0.9" fill="#b2b2b2"/>
<rect x="302.69" y="276.10" width="1.8" height="0.9" fill="#b2b2b2"/>
<path d="M306.38 273.25V285.5" stroke="#737373" stroke-width="0.9"/>
<rect x="305.28" y="274.5" width="2.2" height="8.75" fill="#0a84ff"/>
<path d="M309.16 274.5V281.75" stroke="#737373" stroke-width="0.9"/>
<rect x="308.26" y="275.1" width="1.8" height="5.90" fill="#939393"/>
<rect x="308.26" y="275.1" width="1.8" height="0.9" fill="#b2b2b2"/>
<rect x="308.26" y="280.10" width="1.8" height="0.9" fill="#b2b2b2"/>
<path d="M311.94 269.5V277.6" stroke="#737373" stroke-width="0.9"/>
<rect x="311.04" y="270.1" width="1.8" height="6.30" fill="#939393"/>
<rect x="311.04" y="270.1" width="1.8" height="0.9" fill="#b2b2b2"/>
<rect x="311.04" y="275.50" width="1.8" height="0.9" fill="#b2b2b2"/>
<path d="M314.73 262.6V271.4" stroke="#737373" stroke-width="0.9"/>
<rect x="313.83" y="265.75" width="1.8" height="5.00" fill="#939393"/>
<rect x="313.83" y="265.75" width="1.8" height="0.9" fill="#b2b2b2"/>
<rect x="313.83" y="269.85" width="1.8" height="0.9" fill="#b2b2b2"/>
<path d="M317.51 269.25V276.0" stroke="#737373" stroke-width="0.9"/>
<rect x="316.41" y="269.5" width="2.2" height="6.25" fill="#0a84ff"/>
<path d="M320.30 270.1V277.6" stroke="#737373" stroke-width="0.9"/>
<rect x="319.40" y="270.5" width="1.8" height="6.50" fill="#939393"/>
<rect x="319.40" y="270.5" width="1.8" height="0.9" fill="#b2b2b2"/>
<rect x="319.40" y="276.10" width="1.8" height="0.9" fill="#b2b2b2"/>
<path d="M323.08 268.25V285.75" stroke="#737373" stroke-width="0.9"/>
<rect x="321.98" y="268.9" width="2.2" height="16.60" fill="#0a84ff"/>
<path d="M325.86 277.6V290.1" stroke="#737373" stroke-width="0.9"/>
<rect x="324.96" y="278.0" width="1.8" height="9.25" fill="#939393"/>
<rect x="324.96" y="278.0" width="1.8" height="0.9" fill="#b2b2b2"/>
<rect x="324.96" y="286.35" width="1.8" height="0.9" fill="#b2b2b2"/>
<path d="M328.65 268.0V278.9" stroke="#737373" stroke-width="0.9"/>
<rect x="327.75" y="269.5" width="1.8" height="8.75" fill="#939393"/>
<rect x="327.75" y="269.5" width="1.8" height="0.9" fill="#b2b2b2"/>
<rect x="327.75" y="277.35" width="1.8" height="0.9" fill="#b2b2b2"/>
<path d="M331.43 264.5V274.75" stroke="#737373" stroke-width="0.9"/>
<rect x="330.33" y="265.5" width="2.2" height="8.75" fill="#0a84ff"/>
<path d="M334.21 268.0V277.6" stroke="#737373" stroke-width="0.9"/>
<rect x="333.11" y="270.75" width="2.2" height="6.25" fill="#0a84ff"/>
<path d="M337.00 269.5V278.5" stroke="#737373" stroke-width="0.9"/>
<rect x="336.10" y="270.5" width="1.8" height="7.75" fill="#939393"/>
<rect x="336.10" y="270.5" width="1.8" height="0.9" fill="#b2b2b2"/>
<rect x="336.10" y="277.35" width="1.8" height="0.9" fill="#b2b2b2"/>
<path d="M339.78 259.75V268.9" stroke="#737373" stroke-width="0.9"/>
<rect x="338.88" y="260.1" width="1.8" height="8.15" fill="#939393"/>
<rect x="338.88" y="260.1" width="1.8" height="0.9" fill="#b2b2b2"/>
<rect x="338.88" y="267.35" width="1.8" height="0.9" fill="#b2b2b2"/>
<path d="M342.57 261.75V270.75" stroke="#737373" stroke-width="0.9"/>
<rect x="341.47" y="262.0" width="2.2" height="8.50" fill="#0a84ff"/>
<path d="M345.35 266.4V272.6" stroke="#737373" stroke-width="0.9"/>
<rect x="344.45" y="267.0" width="1.8" height="3.10" fill="#939393"/>
<path d="M348.13 264.25V269.5" stroke="#737373" stroke-width="0.9"/>
<rect x="347.03" y="264.75" width="2.2" height="4.15" fill="#0a84ff"/>
<path d="M350.92 263.25V274.25" stroke="#737373" stroke-width="0.9"/>
<rect x="349.82" y="264.5" width="2.2" height="8.75" fill="#0a84ff"/>
<path d="M353.70 265.0V280.0" stroke="#737373" stroke-width="0.9"/>
<rect x="352.60" y="270.75" width="2.2" height="6.25" fill="#0a84ff"/>
<path d="M356.48 275.1V285.1" stroke="#737373" stroke-width="0.9"/>
<rect x="355.38" y="278.25" width="2.2" height="5.65" fill="#0a84ff"/>
<path d="M359.27 289.25V305.75" stroke="#737373" stroke-width="0.9"/>
<rect x="358.17" y="289.5" width="2.2" height="8.75" fill="#0a84ff"/>
<path d="M362.05 283.0V295.1" stroke="#737373" stroke-width="0.9"/>
<rect x="361.15" y="283.25" width="1.8" height="11.25" fill="#939393"/>
<rect x="361.15" y="283.25" width="1.8" height="0.9" fill="#b2b2b2"/>
<rect x="361.15" y="293.60" width="1.8" height="0.9" fill="#b2b2b2"/>
<path d="M364.83 277.6V287.0" stroke="#737373" stroke-width="0.9"/>
<rect x="363.93" y="278.25" width="1.8" height="3.75" fill="#939393"/>
<rect x="363.93" y="278.25" width="1.8" height="0.9" fill="#b2b2b2"/>
<rect x="363.93" y="281.10" width="1.8" height="0.9" fill="#b2b2b2"/>
<path d="M367.62 278.9V283.25" stroke="#737373" stroke-width="0.9"/>
<rect x="366.52" y="279.25" width="2.2" height="1.50" fill="#0a84ff"/>
<path d="M370.40 272.6V286.4" stroke="#737373" stroke-width="0.9"/>
<rect x="369.30" y="275.5" width="2.2" height="7.10" fill="#0a84ff"/>
<path d="M373.19 278.25V282.6" stroke="#737373" stroke-width="0.9"/>
<rect x="372.09" y="279.5" width="2.2" height="2.25" fill="#0a84ff"/>
<path d="M375.97 277.6V282.6" stroke="#737373" stroke-width="0.9"/>
<rect x="374.87" y="280.1" width="2.2" height="1.90" fill="#0a84ff"/>
<path d="M378.75 259.5V277.6" stroke="#737373" stroke-width="0.9"/>
<rect x="377.85" y="260.1" width="1.8" height="16.90" fill="#939393"/>
<rect x="377.85" y="260.1" width="1.8" height="0.9" fill="#b2b2b2"/>
<rect x="377.85" y="276.10" width="1.8" height="0.9" fill="#b2b2b2"/>
<path d="M381.54 244.75V256.0" stroke="#737373" stroke-width="0.9"/>
<rect x="380.64" y="245.1" width="1.8" height="10.40" fill="#939393"/>
<rect x="380.64" y="245.1" width="1.8" height="0.9" fill="#b2b2b2"/>
<rect x="380.64" y="254.60" width="1.8" height="0.9" fill="#b2b2b2"/>
<path d="M384.32 253.0V260.75" stroke="#737373" stroke-width="0.9"/>
<rect x="383.22" y="253.25" width="2.2" height="1.50" fill="#0a84ff"/>
<path d="M387.10 253.0V260.75" stroke="#737373" stroke-width="0.9"/>
<rect x="386.00" y="253.25" width="2.2" height="5.65" fill="#0a84ff"/>
<path d="M389.89 255.1V259.5" stroke="#737373" stroke-width="0.9"/>
<rect x="388.99" y="255.5" width="1.8" height="3.40" fill="#939393"/>
<rect x="388.99" y="255.5" width="1.8" height="0.9" fill="#b2b2b2"/>
<rect x="388.99" y="258.00" width="1.8" height="0.9" fill="#b2b2b2"/>
<path d="M392.67 254.25V263.0" stroke="#737373" stroke-width="0.9"/>
<rect x="391.57" y="256.0" width="2.2" height="6.25" fill="#0a84ff"/>
<path d="M395.46 263.0V269.75" stroke="#737373" stroke-width="0.9"/>
<rect x="394.36" y="263.25" width="2.2" height="1.50" fill="#0a84ff"/>
<path d="M398.24 262.0V268.9" stroke="#737373" stroke-width="0.9"/>
<rect x="397.34" y="262.6" width="1.8" height="5.90" fill="#939393"/>
<rect x="397.34" y="262.6" width="1.8" height="0.9" fill="#b2b2b2"/>
<rect x="397.34" y="267.60" width="1.8" height="0.9" fill="#b2b2b2"/>
<path d="M401.02 232.25V260.0" stroke="#737373" stroke-width="0.9"/>
<rect x="400.12" y="233.8" width="1.8" height="25.80" fill="#939393"/>
<rect x="400.12" y="233.8" width="1.8" height="0.9" fill="#b2b2b2"/>
<rect x="400.12" y="258.70" width="1.8" height="0.9" fill="#b2b2b2"/>
<path d="M403.81 235.75V242.0" stroke="#737373" stroke-width="0.9"/>
<rect x="402.71" y="236.0" width="2.2" height="5.60" fill="#0a84ff"/>
<path d="M406.59 234.1V242.5" stroke="#737373" stroke-width="0.9"/>
<rect x="405.69" y="234.5" width="1.8" height="7.50" fill="#939393"/>
<rect x="405.69" y="234.5" width="1.8" height="0.9" fill="#b2b2b2"/>
<rect x="405.69" y="241.10" width="1.8" height="0.9" fill="#b2b2b2"/>
<path d="M409.37 229.75V237.25" stroke="#737373" stroke-width="0.9"/>
<rect x="408.47" y="230.0" width="1.8" height="6.60" fill="#939393"/>
<rect x="408.47" y="230.0" width="1.8" height="0.9" fill="#b2b2b2"/>
<rect x="408.47" y="235.70" width="1.8" height="0.9" fill="#b2b2b2"/>
<path d="M412.16 227.0V231.6" stroke="#737373" stroke-width="0.9"/>
<rect x="411.06" y="227.25" width="2.2" height="1.85" fill="#0a84ff"/>
<path d="M414.94 227.25V235.0" stroke="#737373" stroke-width="0.9"/>
<rect x="413.84" y="227.9" width="2.2" height="5.35" fill="#0a84ff"/>
<path d="M417.73 236.25V244.5" stroke="#737373" stroke-width="0.9"/>
<rect x="416.83" y="237.25" width="1.8" height="3.75" fill="#939393"/>
<rect x="416.83" y="237.25" width="1.8" height="0.9" fill="#b2b2b2"/>
<rect x="416.83" y="240.10" width="1.8" height="0.9" fill="#b2b2b2"/>
<path d="M420.51 235.0V241.25" stroke="#737373" stroke-width="0.9"/>
<rect x="419.41" y="237.0" width="2.2" height="2.10" fill="#0a84ff"/>
<path d="M423.29 227.9V237.5" stroke="#737373" stroke-width="0.9"/>
<rect x="422.39" y="228.25" width="1.8" height="8.75" fill="#939393"/>
<rect x="422.39" y="228.25" width="1.8" height="0.9" fill="#b2b2b2"/>
<rect x="422.39" y="236.10" width="1.8" height="0.9" fill="#b2b2b2"/>
<path d="M426.08 219.1V232.5" stroke="#737373" stroke-width="0.9"/>
<rect x="425.18" y="219.75" width="1.8" height="11.85" fill="#939393"/>
<rect x="425.18" y="219.75" width="1.8" height="0.9" fill="#b2b2b2"/>
<rect x="425.18" y="230.70" width="1.8" height="0.9" fill="#b2b2b2"/>
<path d="M428.86 222.0V228.75" stroke="#737373" stroke-width="0.9"/>
<rect x="427.76" y="222.5" width="2.2" height="1.25" fill="#0a84ff"/>
<path d="M431.64 223.75V231.6" stroke="#737373" stroke-width="0.9"/>
<rect x="430.54" y="224.1" width="2.2" height="4.15" fill="#0a84ff"/>
<path d="M434.43 224.1V231.6" stroke="#737373" stroke-width="0.9"/>
<rect x="433.33" y="227.0" width="2.2" height="2.10" fill="#0a84ff"/>
<path d="M437.21 214.1V228.75" stroke="#737373" stroke-width="0.9"/>
<rect x="436.31" y="214.5" width="1.8" height="13.75" fill="#939393"/>
<rect x="436.31" y="214.5" width="1.8" height="0.9" fill="#b2b2b2"/>
<rect x="436.31" y="227.35" width="1.8" height="0.9" fill="#b2b2b2"/>
<path d="M439.99 216.0V223.25" stroke="#737373" stroke-width="0.9"/>
<rect x="438.89" y="216.25" width="2.2" height="6.65" fill="#0a84ff"/>
<path d="M442.78 218.25V222.25" stroke="#737373" stroke-width="0.9"/>
<rect x="441.88" y="219.1" width="1.8" height="1.90" fill="#939393"/>
<path d="M445.56 219.5V225.75" stroke="#737373" stroke-width="0.9"/>
<rect x="444.46" y="220.0" width="2.2" height="1.60" fill="#0a84ff"/>
<path d="M448.35 204.1V223.25" stroke="#737373" stroke-width="0.9"/>
<rect x="447.45" y="204.5" width="1.8" height="18.00" fill="#939393"/>
<rect x="447.45" y="204.5" width="1.8" height="0.9" fill="#b2b2b2"/>
<rect x="447.45" y="221.60" width="1.8" height="0.9" fill="#b2b2b2"/>
<path d="M451.13 198.75V216.0" stroke="#737373" stroke-width="0.9"/>
<rect x="450.23" y="199.1" width="1.8" height="16.30" fill="#939393"/>
<rect x="450.23" y="199.1" width="1.8" height="0.9" fill="#b2b2b2"/>
<rect x="450.23" y="214.50" width="1.8" height="0.9" fill="#b2b2b2"/>
<path d="M453.91 197.9V206.6" stroke="#737373" stroke-width="0.9"/>
<rect x="452.81" y="198.25" width="2.2" height="7.75" fill="#0a84ff"/>
<path d="M456.70 199.75V211.1" stroke="#737373" stroke-width="0.9"/>
<rect x="455.80" y="200.4" width="1.8" height="6.60" fill="#939393"/>
<rect x="455.80" y="200.4" width="1.8" height="0.9" fill="#b2b2b2"/>
<rect x="455.80" y="206.10" width="1.8" height="0.9" fill="#b2b2b2"/>
<path d="M459.48 194.5V204.2" stroke="#737373" stroke-width="0.9"/>
<rect x="458.38" y="200.0" width="2.2" height="3.30" fill="#0a84ff"/>
<path d="M462.26 201.6V211.0" stroke="#737373" stroke-width="0.9"/>
<rect x="461.16" y="202.3" width="2.2" height="8.45" fill="#0a84ff"/>
<path d="M465.05 214.75V223.5" stroke="#737373" stroke-width="0.9"/>
<rect x="463.95" y="215.3" width="2.2" height="3.20" fill="#0a84ff"/>
<path d="M467.83 209.75V217.6" stroke="#737373" stroke-width="0.9"/>
<rect x="466.93" y="210.3" width="1.8" height="6.50" fill="#939393"/>
<rect x="466.93" y="210.3" width="1.8" height="0.9" fill="#b2b2b2"/>
<rect x="466.93" y="215.90" width="1.8" height="0.9" fill="#b2b2b2"/>
<path d="M470.62 205.6V212.5" stroke="#737373" stroke-width="0.9"/>
<rect x="469.52" y="207.8" width="2.2" height="3.20" fill="#0a84ff"/>
<path d="M473.40 208.6V217.4" stroke="#737373" stroke-width="0.9"/>
<rect x="472.50" y="209.9" width="1.8" height="2.10" fill="#939393"/>
<path d="M476.18 205.75V213.6" stroke="#737373" stroke-width="0.9"/>
<rect x="475.28" y="206.5" width="1.8" height="6.75" fill="#939393"/>
<rect x="475.28" y="206.5" width="1.8" height="0.9" fill="#b2b2b2"/>
<rect x="475.28" y="212.35" width="1.8" height="0.9" fill="#b2b2b2"/>
<path d="M478.97 201.75V209.9" stroke="#737373" stroke-width="0.9"/>
<rect x="478.07" y="202.4" width="1.8" height="4.10" fill="#939393"/>
<rect x="478.07" y="202.4" width="1.8" height="0.9" fill="#b2b2b2"/>
<rect x="478.07" y="205.60" width="1.8" height="0.9" fill="#b2b2b2"/>
<path d="M481.75 190.25V200.75" stroke="#737373" stroke-width="0.9"/>
<rect x="480.85" y="197.0" width="1.8" height="2.90" fill="#939393"/>
<path d="M484.53 188.0V194.9" stroke="#737373" stroke-width="0.9"/>
<rect x="483.43" y="192.75" width="2.2" height="1.50" fill="#0a84ff"/>
<path d="M487.32 191.5V204.5" stroke="#737373" stroke-width="0.9"/>
<rect x="486.22" y="192.0" width="2.2" height="11.00" fill="#0a84ff"/>
<path d="M490.10 193.6V202.4" stroke="#737373" stroke-width="0.9"/>
<rect x="489.20" y="194.0" width="1.8" height="7.50" fill="#939393"/>
<rect x="489.20" y="194.0" width="1.8" height="0.9" fill="#b2b2b2"/>
<rect x="489.20" y="200.60" width="1.8" height="0.9" fill="#b2b2b2"/>
<path d="M492.88 192.0V201.75" stroke="#737373" stroke-width="0.9"/>
<rect x="491.78" y="193.6" width="2.2" height="6.30" fill="#0a84ff"/>
<path d="M495.67 194.25V224.0" stroke="#737373" stroke-width="0.9"/>
<rect x="494.57" y="198.0" width="2.2" height="25.60" fill="#0a84ff"/>
<path d="M498.45 200.75V215.25" stroke="#737373" stroke-width="0.9"/>
<rect x="497.55" y="201.1" width="1.8" height="13.40" fill="#939393"/>
<rect x="497.55" y="201.1" width="1.8" height="0.9" fill="#b2b2b2"/>
<rect x="497.55" y="213.60" width="1.8" height="0.9" fill="#b2b2b2"/>
<path d="M501.24 184.9V215.5" stroke="#737373" stroke-width="0.9"/>
<rect x="500.34" y="185.25" width="1.8" height="22.75" fill="#939393"/>
<rect x="500.34" y="185.25" width="1.8" height="0.9" fill="#b2b2b2"/>
<rect x="500.34" y="207.10" width="1.8" height="0.9" fill="#b2b2b2"/>
<path d="M504.02 175.25V192.0" stroke="#737373" stroke-width="0.9"/>
<rect x="503.12" y="183.0" width="1.8" height="3.10" fill="#939393"/>
<path d="M506.80 179.5V202.4" stroke="#737373" stroke-width="0.9"/>
<rect x="505.70" y="181.1" width="2.2" height="19.15" fill="#0a84ff"/>
<path d="M509.59 200.75V210.5" stroke="#737373" stroke-width="0.9"/>
<rect x="508.49" y="203.25" width="2.2" height="2.00" fill="#0a84ff"/>
<path d="M512.37 188.6V199.0" stroke="#737373" stroke-width="0.9"/>
<rect x="511.47" y="189.0" width="1.8" height="9.60" fill="#939393"/>
<rect x="511.47" y="189.0" width="1.8" height="0.9" fill="#b2b2b2"/>
<rect x="511.47" y="197.70" width="1.8" height="0.9" fill="#b2b2b2"/>
<path d="M515.15 189.0V197.75" stroke="#737373" stroke-width="0.9"/>
<rect x="514.05" y="190.5" width="2.2" height="3.50" fill="#0a84ff"/>
<path d="M517.94 194.0V213.0" stroke="#737373" stroke-width="0.9"/>
<rect x="516.84" y="194.5" width="2.2" height="10.75" fill="#0a84ff"/>
<path d="M520.72 192.75V204.0" stroke="#737373" stroke-width="0.9"/>
<rect x="519.82" y="193.6" width="1.8" height="9.65" fill="#939393"/>
<rect x="519.82" y="193.6" width="1.8" height="0.9" fill="#b2b2b2"/>
<rect x="519.82" y="202.35" width="1.8" height="0.9" fill="#b2b2b2"/>
<path d="M523.51 180.25V189.0" stroke="#737373" stroke-width="0.9"/>
<rect x="522.61" y="184.0" width="1.8" height="4.60" fill="#939393"/>
<rect x="522.61" y="184.0" width="1.8" height="0.9" fill="#b2b2b2"/>
<rect x="522.61" y="187.70" width="1.8" height="0.9" fill="#b2b2b2"/>
<path d="M526.29 175.75V184.0" stroke="#737373" stroke-width="0.9"/>
<rect x="525.19" y="180.25" width="2.2" height="3.00" fill="#0a84ff"/>
<path d="M529.07 181.1V188.6" stroke="#737373" stroke-width="0.9"/>
<rect x="527.97" y="183.25" width="2.2" height="4.75" fill="#0a84ff"/>
<path d="M531.86 180.25V199.5" stroke="#737373" stroke-width="0.9"/>
<rect x="530.76" y="187.4" width="2.2" height="7.50" fill="#0a84ff"/>
<path d="M534.64 190.5V201.1" stroke="#737373" stroke-width="0.9"/>
<rect x="533.54" y="196.5" width="2.2" height="4.25" fill="#0a84ff"/>
<path d="M537.42 194.0V203.6" stroke="#737373" stroke-width="0.9"/>
<rect x="536.52" y="194.5" width="1.8" height="5.75" fill="#939393"/>
<rect x="536.52" y="194.5" width="1.8" height="0.9" fill="#b2b2b2"/>
<rect x="536.52" y="199.35" width="1.8" height="0.9" fill="#b2b2b2"/>
<path d="M540.21 195.0V208.0" stroke="#737373" stroke-width="0.9"/>
<rect x="539.11" y="195.25" width="2.2" height="3.75" fill="#0a84ff"/>
<path d="M542.99 203.0V213.5" stroke="#737373" stroke-width="0.9"/>
<rect x="541.89" y="205.6" width="2.2" height="7.50" fill="#0a84ff"/>
<path d="M545.78 197.9V213.0" stroke="#737373" stroke-width="0.9"/>
<rect x="544.88" y="200.75" width="1.8" height="11.85" fill="#939393"/>
<rect x="544.88" y="200.75" width="1.8" height="0.9" fill="#b2b2b2"/>
<rect x="544.88" y="211.70" width="1.8" height="0.9" fill="#b2b2b2"/>
<path d="M548.56 201.25V216.25" stroke="#737373" stroke-width="0.9"/>
<rect x="547.46" y="201.9" width="2.2" height="13.70" fill="#0a84ff"/>
<path d="M551.34 210.0V228.0" stroke="#737373" stroke-width="0.9"/>
<rect x="550.44" y="210.6" width="1.8" height="9.40" fill="#939393"/>
<rect x="550.44" y="210.6" width="1.8" height="0.9" fill="#b2b2b2"/>
<rect x="550.44" y="219.10" width="1.8" height="0.9" fill="#b2b2b2"/>
<path d="M554.13 199.0V208.75" stroke="#737373" stroke-width="0.9"/>
<rect x="553.23" y="202.5" width="1.8" height="3.10" fill="#939393"/>
<path d="M556.91 201.0V207.5" stroke="#737373" stroke-width="0.9"/>
<rect x="556.01" y="201.9" width="1.8" height="3.70" fill="#939393"/>
<rect x="556.01" y="201.9" width="1.8" height="0.9" fill="#b2b2b2"/>
<rect x="556.01" y="204.70" width="1.8" height="0.9" fill="#b2b2b2"/>
<path d="M559.69 196.0V205.6" stroke="#737373" stroke-width="0.9"/>
<rect x="558.59" y="201.0" width="2.2" height="4.25" fill="#0a84ff"/>
<path d="M562.48 207.75V229.75" stroke="#737373" stroke-width="0.9"/>
<rect x="561.38" y="208.1" width="2.2" height="20.00" fill="#0a84ff"/>
<path d="M565.26 221.25V240.0" stroke="#737373" stroke-width="0.9"/>
<rect x="564.36" y="221.9" width="1.8" height="17.50" fill="#939393"/>
<rect x="564.36" y="221.9" width="1.8" height="0.9" fill="#b2b2b2"/>
<rect x="564.36" y="238.50" width="1.8" height="0.9" fill="#b2b2b2"/>
<path d="M568.04 224.75V243.1" stroke="#737373" stroke-width="0.9"/>
<rect x="566.94" y="228.1" width="2.2" height="13.15" fill="#0a84ff"/>
<path d="M570.83 234.0V246.25" stroke="#737373" stroke-width="0.9"/>
<rect x="569.93" y="237.5" width="1.8" height="6.25" fill="#939393"/>
<rect x="569.93" y="237.5" width="1.8" height="0.9" fill="#b2b2b2"/>
<rect x="569.93" y="242.85" width="1.8" height="0.9" fill="#b2b2b2"/>
<path d="M573.61 230.0V240.6" stroke="#737373" stroke-width="0.9"/>
<rect x="572.51" y="237.75" width="2.2" height="2.00" fill="#0a84ff"/>
<path d="M576.40 220.25V253.1" stroke="#737373" stroke-width="0.9"/>
<rect x="575.30" y="232.75" width="2.2" height="20.00" fill="#0a84ff"/>
<path d="M579.18 227.25V253.1" stroke="#737373" stroke-width="0.9"/>
<rect x="578.28" y="230.25" width="1.8" height="22.25" fill="#939393"/>
<rect x="578.28" y="230.25" width="1.8" height="0.9" fill="#b2b2b2"/>
<rect x="578.28" y="251.60" width="1.8" height="0.9" fill="#b2b2b2"/>
<path d="M581.96 216.0V231.25" stroke="#737373" stroke-width="0.9"/>
<rect x="581.06" y="218.1" width="1.8" height="12.50" fill="#939393"/>
<rect x="581.06" y="218.1" width="1.8" height="0.9" fill="#b2b2b2"/>
<rect x="581.06" y="229.70" width="1.8" height="0.9" fill="#b2b2b2"/>
<path d="M584.75 199.0V216.9" stroke="#737373" stroke-width="0.9"/>
<rect x="583.85" y="200.25" width="1.8" height="16.00" fill="#939393"/>
<rect x="583.85" y="200.25" width="1.8" height="0.9" fill="#b2b2b2"/>
<rect x="583.85" y="215.35" width="1.8" height="0.9" fill="#b2b2b2"/>
<path d="M587.53 188.4V201.0" stroke="#737373" stroke-width="0.9"/>
<rect x="586.63" y="193.75" width="1.8" height="6.75" fill="#939393"/>
<rect x="586.63" y="193.75" width="1.8" height="0.9" fill="#b2b2b2"/>
<rect x="586.63" y="199.60" width="1.8" height="0.9" fill="#b2b2b2"/>
<path d="M590.31 188.4V192.1" stroke="#737373" stroke-width="0.9"/>
<rect x="589.41" y="188.75" width="1.8" height="3.00" fill="#939393"/>
<path d="M593.10 193.25V200.0" stroke="#737373" stroke-width="0.9"/>
<rect x="592.00" y="194.5" width="2.2" height="5.00" fill="#0a84ff"/>
<path d="M595.88 193.25V201.25" stroke="#737373" stroke-width="0.9"/>
<rect x="594.78" y="195.4" width="2.2" height="5.60" fill="#0a84ff"/>
<path d="M598.67 185.0V199.75" stroke="#737373" stroke-width="0.9"/>
<rect x="597.77" y="185.25" width="1.8" height="13.75" fill="#939393"/>
<rect x="597.77" y="185.25" width="1.8" height="0.9" fill="#b2b2b2"/>
<rect x="597.77" y="198.10" width="1.8" height="0.9" fill="#b2b2b2"/>
<path d="M601.45 176.25V188.75" stroke="#737373" stroke-width="0.9"/>
<rect x="600.55" y="179.25" width="1.8" height="8.75" fill="#939393"/>
<rect x="600.55" y="179.25" width="1.8" height="0.9" fill="#b2b2b2"/>
<rect x="600.55" y="187.10" width="1.8" height="0.9" fill="#b2b2b2"/>
<path d="M604.23 177.1V183.4" stroke="#737373" stroke-width="0.9"/>
<rect x="603.13" y="179.25" width="2.2" height="3.50" fill="#0a84ff"/>
<path d="M607.02 176.25V183.75" stroke="#737373" stroke-width="0.9"/>
<rect x="605.92" y="178.75" width="2.2" height="4.25" fill="#0a84ff"/>
<path d="M609.80 175.25V185.0" stroke="#737373" stroke-width="0.9"/>
<rect x="608.90" y="180.25" width="1.8" height="4.35" fill="#939393"/>
<rect x="608.90" y="180.25" width="1.8" height="0.9" fill="#b2b2b2"/>
<rect x="608.90" y="183.70" width="1.8" height="0.9" fill="#b2b2b2"/>
<path d="M612.58 164.6V182.5" stroke="#737373" stroke-width="0.9"/>
<rect x="611.68" y="170.0" width="1.8" height="11.75" fill="#939393"/>
<rect x="611.68" y="170.0" width="1.8" height="0.9" fill="#b2b2b2"/>
<rect x="611.68" y="180.85" width="1.8" height="0.9" fill="#b2b2b2"/>
<path d="M615.37 158.4V170.0" stroke="#737373" stroke-width="0.9"/>
<rect x="614.47" y="158.75" width="1.8" height="10.85" fill="#939393"/>
<rect x="614.47" y="158.75" width="1.8" height="0.9" fill="#b2b2b2"/>
<rect x="614.47" y="168.70" width="1.8" height="0.9" fill="#b2b2b2"/>
<path d="M618.15 158.0V173.0" stroke="#737373" stroke-width="0.9"/>
<rect x="617.05" y="158.4" width="2.2" height="14.10" fill="#0a84ff"/>
<path d="M620.94 167.1V180.0" stroke="#737373" stroke-width="0.9"/>
<rect x="619.84" y="168.4" width="2.2" height="10.85" fill="#0a84ff"/>
<path d="M623.72 177.5V186.5" stroke="#737373" stroke-width="0.9"/>
<rect x="622.62" y="180.25" width="2.2" height="2.75" fill="#0a84ff"/>
<path d="M626.50 175.9V192.75" stroke="#737373" stroke-width="0.9"/>
<rect x="625.40" y="182.1" width="2.2" height="10.00" fill="#0a84ff"/>
<path d="M629.29 178.75V187.75" stroke="#737373" stroke-width="0.9"/>
<rect x="628.19" y="183.0" width="2.2" height="4.10" fill="#0a84ff"/>
<path d="M632.07 177.5V187.1" stroke="#737373" stroke-width="0.9"/>
<rect x="631.17" y="179.25" width="1.8" height="7.25" fill="#939393"/>
<rect x="631.17" y="179.25" width="1.8" height="0.9" fill="#b2b2b2"/>
<rect x="631.17" y="185.60" width="1.8" height="0.9" fill="#b2b2b2"/>
<path d="M634.85 165.0V177.1" stroke="#737373" stroke-width="0.9"/>
<rect x="633.95" y="170.0" width="1.8" height="6.75" fill="#939393"/>
<rect x="633.95" y="170.0" width="1.8" height="0.9" fill="#b2b2b2"/>
<rect x="633.95" y="175.85" width="1.8" height="0.9" fill="#b2b2b2"/>
<path d="M637.64 172.1V176.75" stroke="#737373" stroke-width="0.9"/>
<rect x="636.54" y="173.0" width="2.2" height="3.50" fill="#0a84ff"/>
<path d="M640.42 172.5V177.5" stroke="#737373" stroke-width="0.9"/>
<rect x="639.52" y="173.0" width="1.8" height="4.10" fill="#939393"/>
<rect x="639.52" y="173.0" width="1.8" height="0.9" fill="#b2b2b2"/>
<rect x="639.52" y="176.20" width="1.8" height="0.9" fill="#b2b2b2"/>
<path d="M643.20 173.75V180.0" stroke="#737373" stroke-width="0.9"/>
<rect x="642.10" y="174.0" width="2.2" height="4.00" fill="#0a84ff"/>
<path d="M645.99 178.0V184.0" stroke="#737373" stroke-width="0.9"/>
<rect x="644.89" y="180.9" width="2.2" height="2.10" fill="#0a84ff"/>
<path d="M648.77 182.1V189.25" stroke="#737373" stroke-width="0.9"/>
<rect x="647.67" y="182.75" width="2.2" height="6.00" fill="#0a84ff"/>
<path d="M651.56 188.4V195.9" stroke="#737373" stroke-width="0.9"/>
<rect x="650.46" y="189.0" width="2.2" height="6.25" fill="#0a84ff"/>
<path d="M654.34 185.9V194.6" stroke="#737373" stroke-width="0.9"/>
<rect x="653.44" y="186.25" width="1.8" height="7.50" fill="#939393"/>
<rect x="653.44" y="186.25" width="1.8" height="0.9" fill="#b2b2b2"/>
<rect x="653.44" y="192.85" width="1.8" height="0.9" fill="#b2b2b2"/>
<path d="M657.12 170.5V184.25" stroke="#737373" stroke-width="0.9"/>
<rect x="656.22" y="173.0" width="1.8" height="10.75" fill="#939393"/>
<rect x="656.22" y="173.0" width="1.8" height="0.9" fill="#b2b2b2"/>
<rect x="656.22" y="182.85" width="1.8" height="0.9" fill="#b2b2b2"/>
<path d="M659.91 161.75V175.25" stroke="#737373" stroke-width="0.9"/>
<rect x="659.01" y="162.1" width="1.8" height="12.50" fill="#939393"/>
<rect x="659.01" y="162.1" width="1.8" height="0.9" fill="#b2b2b2"/>
<rect x="659.01" y="173.70" width="1.8" height="0.9" fill="#b2b2b2"/>
<path d="M662.69 160.75V167.9" stroke="#737373" stroke-width="0.9"/>
<rect x="661.59" y="161.0" width="2.2" height="3.75" fill="#0a84ff"/>
<path d="M665.47 153.5V167.9" stroke="#737373" stroke-width="0.9"/>
<rect x="664.57" y="154.75" width="1.8" height="12.50" fill="#939393"/>
<rect x="664.57" y="154.75" width="1.8" height="0.9" fill="#b2b2b2"/>
<rect x="664.57" y="166.35" width="1.8" height="0.9" fill="#b2b2b2"/>
<path d="M668.26 144.1V154.1" stroke="#737373" stroke-width="0.9"/>
<rect x="667.36" y="144.75" width="1.8" height="8.75" fill="#939393"/>
<rect x="667.36" y="144.75" width="1.8" height="0.9" fill="#b2b2b2"/>
<rect x="667.36" y="152.60" width="1.8" height="0.9" fill="#b2b2b2"/>
<path d="M671.04 144.5V154.1" stroke="#737373" stroke-width="0.9"/>
<rect x="670.14" y="145.0" width="1.8" height="8.50" fill="#939393"/>
<rect x="670.14" y="145.0" width="1.8" height="0.9" fill="#b2b2b2"/>
<rect x="670.14" y="152.60" width="1.8" height="0.9" fill="#b2b2b2"/>
<path d="M673.83 141.25V147.0" stroke="#737373" stroke-width="0.9"/>
<rect x="672.73" y="142.0" width="2.2" height="3.75" fill="#0a84ff"/>
<path d="M676.61 138.75V148.75" stroke="#737373" stroke-width="0.9"/>
<rect x="675.71" y="139.1" width="1.8" height="7.50" fill="#939393"/>
<rect x="675.71" y="139.1" width="1.8" height="0.9" fill="#b2b2b2"/>
<rect x="675.71" y="145.70" width="1.8" height="0.9" fill="#b2b2b2"/>
<path d="M679.39 127.0V137.5" stroke="#737373" stroke-width="0.9"/>
<rect x="678.49" y="131.5" width="1.8" height="5.50" fill="#939393"/>
<rect x="678.49" y="131.5" width="1.8" height="0.9" fill="#b2b2b2"/>
<rect x="678.49" y="136.10" width="1.8" height="0.9" fill="#b2b2b2"/>
<path d="M682.18 125.75V133.75" stroke="#737373" stroke-width="0.9"/>
<rect x="681.28" y="130.8" width="1.8" height="2.80" fill="#939393"/>
<path d="M684.96 133.25V145.75" stroke="#737373" stroke-width="0.9"/>
<rect x="684.06" y="141.6" width="1.8" height="2.50" fill="#939393"/>
<path d="M687.74 122.0V139.5" stroke="#737373" stroke-width="0.9"/>
<rect x="686.84" y="123.5" width="1.8" height="12.50" fill="#939393"/>
<rect x="686.84" y="123.5" width="1.8" height="0.9" fill="#b2b2b2"/>
<rect x="686.84" y="135.10" width="1.8" height="0.9" fill="#b2b2b2"/>
<path d="M690.53 111.6V119.1" stroke="#737373" stroke-width="0.9"/>
<rect x="689.63" y="112.25" width="1.8" height="6.25" fill="#939393"/>
<rect x="689.63" y="112.25" width="1.8" height="0.9" fill="#b2b2b2"/>
<rect x="689.63" y="117.60" width="1.8" height="0.9" fill="#b2b2b2"/>
<path d="M693.31 119.5V135.0" stroke="#737373" stroke-width="0.9"/>
<rect x="692.21" y="119.75" width="2.2" height="14.75" fill="#0a84ff"/>
<path d="M707.8 134l2.6-4.1H736v8.2H710.4z" fill="#ffffff"/>
<text x="711.1" y="136.9" font-size="7.6" fill="#333" stroke="#333" stroke-width="0.12" textLength="23.9" lengthAdjust="spacingAndGlyphs">2669.162</text>
<path d="M707.8 181.5l2.6-4.1H736v8.2H710.4z" fill="#ff22b8"/>
<text x="711.1" y="184.4" font-size="7.6" fill="#fff" stroke="#fff" stroke-width="0.12" textLength="23.9" lengthAdjust="spacingAndGlyphs">2524.371</text>
<path d="M707.8 194l2.6-4.1H736v8.2H710.4z" fill="#22c244"/>
<text x="711.1" y="196.9" font-size="7.6" fill="#f0f0f0" stroke="#f0f0f0" stroke-width="0.12" textLength="23.9" lengthAdjust="spacingAndGlyphs">2484.978</text>
<path d="M707.8 251.5l2.6-4.1H736v8.2H710.4z" fill="#ffee22"/>
<text x="711.1" y="254.4" font-size="7.6" fill="#333" stroke="#333" stroke-width="0.12" textLength="23.9" lengthAdjust="spacingAndGlyphs">2309.046</text>
<text x="33.0" y="478.6" font-size="7" fill="#b8b8b8" textLength="9" lengthAdjust="spacingAndGlyphs">Feb</text>
<text x="88.25" y="478.6" font-size="7" fill="#b8b8b8" textLength="9.5" lengthAdjust="spacingAndGlyphs">Mar</text>
<text x="147.0" y="478.6" font-size="7" fill="#b8b8b8" textLength="9" lengthAdjust="spacingAndGlyphs">Apr</text>
<text x="204.75" y="478.6" font-size="7" fill="#b8b8b8" textLength="10.5" lengthAdjust="spacingAndGlyphs">May</text>
<text x="262.5" y="478.6" font-size="7" fill="#b8b8b8" textLength="9" lengthAdjust="spacingAndGlyphs">Jun</text>
<text x="320.5" y="478.6" font-size="7" fill="#b8b8b8" textLength="9" lengthAdjust="spacingAndGlyphs">Jul</text>
<text x="380.5" y="478.6" font-size="7" fill="#b8b8b8" textLength="9" lengthAdjust="spacingAndGlyphs">Aug</text>
<text x="439.0" y="478.6" font-size="7" fill="#b8b8b8" textLength="9" lengthAdjust="spacingAndGlyphs">Sep</text>
<text x="500.0" y="478.6" font-size="7" fill="#b8b8b8" textLength="9" lengthAdjust="spacingAndGlyphs">Oct</text>
<text x="558.5" y="478.6" font-size="7" fill="#b8b8b8" textLength="9" lengthAdjust="spacingAndGlyphs">Nov</text>
<text x="615.5" y="478.6" font-size="7" fill="#b8b8b8" textLength="9" lengthAdjust="spacingAndGlyphs">Dec</text>
<text x="674.0" y="478.6" font-size="7" fill="#b8b8b8" textLength="9" lengthAdjust="spacingAndGlyphs">Jan</text>
<text x="319" y="486.2" font-size="7" fill="#b8b8b8" textLength="12.5" lengthAdjust="spacingAndGlyphs">2025</text>
<text x="672.5" y="486.2" font-size="7" fill="#b8b8b8" textLength="12.5" lengthAdjust="spacingAndGlyphs">2026</text>
<rect x="2.5" y="84" width="107.5" height="56" fill="#0b0b0b" stroke="#161616" stroke-width="0.6"/>
<text x="17" y="92.70" font-size="7" fill="#c8c8c8" textLength="28.7" lengthAdjust="spacingAndGlyphs" style="white-space:pre">Last Price</text>
<text x="83.8" y="92.70" font-size="7" fill="#c8c8c8" textLength="24.6" lengthAdjust="spacingAndGlyphs">2669.162</text>
<text x="17" y="100.05" font-size="7" fill="#c8c8c8" textLength="49" lengthAdjust="spacingAndGlyphs" style="white-space:pre">High on 01/22/26</text>
<text x="83.8" y="100.05" font-size="7" fill="#c8c8c8" textLength="24.6" lengthAdjust="spacingAndGlyphs">2735.104</text>
<text x="17" y="107.40" font-size="7" fill="#c8c8c8" textLength="21.5" lengthAdjust="spacingAndGlyphs" style="white-space:pre">Average</text>
<text x="83.8" y="107.40" font-size="7" fill="#c8c8c8" textLength="24.6" lengthAdjust="spacingAndGlyphs">2275.164</text>
<text x="17" y="114.75" font-size="7" fill="#c8c8c8" textLength="47.5" lengthAdjust="spacingAndGlyphs" style="white-space:pre">Low on 04/09/25</text>
<text x="83.8" y="114.75" font-size="7" fill="#c8c8c8" textLength="24.6" lengthAdjust="spacingAndGlyphs">1732.992</text>
<text x="17" y="122.10" font-size="7" fill="#c8c8c8" textLength="61" lengthAdjust="spacingAndGlyphs" style="white-space:pre">SMAVG (50)  on Close</text>
<text x="83.8" y="122.10" font-size="7" fill="#c8c8c8" textLength="24.6" lengthAdjust="spacingAndGlyphs">2524.371</text>
<text x="17" y="129.45" font-size="7" fill="#c8c8c8" textLength="64" lengthAdjust="spacingAndGlyphs" style="white-space:pre">SMAVG (100)  on Close</text>
<text x="83.8" y="129.45" font-size="7" fill="#c8c8c8" textLength="24.6" lengthAdjust="spacingAndGlyphs">2484.978</text>
<text x="17" y="136.80" font-size="7" fill="#c8c8c8" textLength="64" lengthAdjust="spacingAndGlyphs" style="white-space:pre">SMAVG (200)  on Close</text>
<text x="83.8" y="136.80" font-size="7" fill="#c8c8c8" textLength="24.6" lengthAdjust="spacingAndGlyphs">2309.046</text>
<rect x="9.5" y="87.2" width="5.8" height="5.8" fill="#fff"/>
<rect x="9.5" y="116.80" width="5.6" height="5.6" fill="#ff1fb4"/>
<rect x="9.5" y="124.15" width="5.6" height="5.6" fill="#22c244"/>
<rect x="9.5" y="131.50" width="5.6" height="5.6" fill="#ffee22"/>
<path d="M6.4 91.5V132" stroke="#3c3c3c" stroke-width="0.8"/>
<path d="M4.9 88.4h3v3h-3z" fill="none" stroke="#555" stroke-width="0.7"/>
<path d="M11 94.9h3.2M12.6 94.9v5" stroke="#7a7a7a" stroke-width="0.8" fill="none"/>
<path d="M10.3 104.6h4.6M12.6 103.4v2.6" stroke="#7a7a7a" stroke-width="0.8" fill="none"/>
<path d="M12.6 109.2v5.2M11 114.6h3.2" stroke="#7a7a7a" stroke-width="0.8" fill="none"/>
</svg>
<span class="t" id="t0" style="left:4.5px;top:11.69px;font-size:11px;color:#ffffff;transform:scaleX(0.7106);">RTY</span>
<span class="t" id="t1" style="left:39px;top:11.69px;font-size:11px;color:#ff2d4b;font-weight:bold;transform:scaleX(0.8716);">2669.162</span>
<span class="t" id="t2" style="left:89px;top:11.69px;font-size:11px;color:#f0203c;transform:scaleX(0.9112);">-49.603</span>
<span class="t" id="t3" style="left:228px;top:10.69px;font-size:11px;color:#ffffff;transform:scaleX(1.1599);">--</span>
<span class="t" id="t4" style="left:243.5px;top:11.69px;font-size:11px;color:#e4e4e8;transform:scaleX(1.4694);">/</span>
<span class="t" id="t5" style="left:253.5px;top:10.69px;font-size:11px;color:#ffffff;transform:scaleX(1.2281);">--</span>
<span class="t" id="t6" style="left:21px;top:26.19px;font-size:11px;color:#ffa028;transform:scaleX(0.7149);">On</span>
<span class="t" id="t7" style="left:37px;top:26.19px;font-size:11px;color:#c8d0dc;transform:scaleX(0.8769);">23-Jan</span>
<span class="t" id="t8" style="left:72px;top:26.19px;font-size:11px;color:#c8d0dc;transform:scaleX(0.8163);">d</span>
<span class="t" id="t9" style="left:83px;top:26.19px;font-size:11px;color:#ffa028;transform:scaleX(0.6423);">O</span>
<span class="t" id="t10" style="left:94.5px;top:26.19px;font-size:11px;color:#ffffff;transform:scaleX(0.8607);">2712.697</span>
<span class="t" id="t11" style="left:141px;top:26.19px;font-size:11px;color:#ffa028;transform:scaleX(0.6916);">H</span>
<span class="t" id="t12" style="left:152px;top:26.19px;font-size:11px;color:#ffffff;transform:scaleX(0.8607);">2712.697</span>
<span class="t" id="t13" style="left:199px;top:26.19px;font-size:11px;color:#ffa028;transform:scaleX(0.7347);">L</span>
<span class="t" id="t14" style="left:209px;top:26.19px;font-size:11px;color:#ffffff;transform:scaleX(0.8716);">2664.549</span>
<span class="t" id="t15" style="left:256px;top:26.19px;font-size:11px;color:#ffa028;transform:scaleX(0.8619);">Prev</span>
<span class="t" id="t16" style="left:281px;top:26.19px;font-size:11px;color:#ffffff;transform:scaleX(0.8716);">2718.765</span>
<span class="t" id="t17" style="left:1.6px;top:40.13px;font-size:11.3px;color:#1a1000;transform:scaleX(0.8042);">RTY Index</span>
<span class="t" id="t18" style="left:88px;top:40.39px;font-size:11px;color:#d9a3aa;transform:scaleX(0.5344);">94)</span>
<span class="t" id="t19" style="left:99px;top:40.13px;font-size:11.3px;color:#ffffff;transform:scaleX(0.7574);">Suggested Charts</span>
<span class="t" id="t20" style="left:182px;top:40.39px;font-size:11px;color:#d9a3aa;transform:scaleX(0.5344);">96)</span>
<span class="t" id="t21" style="left:193px;top:40.13px;font-size:11.3px;color:#ffffff;transform:scaleX(0.7693);">Actions</span>
<span class="t" id="t22" style="left:236px;top:40.39px;font-size:11px;color:#d9a3aa;transform:scaleX(0.5029);">97)</span>
<span class="t" id="t23" style="left:247px;top:40.13px;font-size:11.3px;color:#ffffff;transform:scaleX(0.7961);">Edit</span>
<span class="t" id="t24" style="left:680px;top:40.13px;font-size:11.3px;color:#ffffff;transform:scaleX(0.7512);">Candle Chart</span>
<span class="t" id="t25" style="left:2.7px;top:57.53px;font-size:10px;color:#1a1000;transform:scaleX(0.7890);">01/25/2025</span>
<span class="t" id="t26" style="left:53.3px;top:57.53px;font-size:10px;color:#ffa028;transform:scaleX(0.7776);">-</span>
<span class="t" id="t27" style="left:59px;top:57.53px;font-size:10px;color:#1a1000;transform:scaleX(0.7890);">01/26/2026</span>
<span class="t" id="t28" style="left:112.2px;top:57.53px;font-size:10px;color:#1a1000;transform:scaleX(0.7344);">Last Px</span>
<span class="t" id="t29" style="left:163px;top:57.53px;font-size:10px;color:#1a1000;transform:scaleX(0.6902);">Local CCY</span>
<span class="t" id="t30" style="left:221.5px;top:57.53px;font-size:10px;color:#ffa028;transform:scaleX(0.7181);">Mov Avgs</span>
<span class="t" id="t31" style="left:275px;top:57.53px;font-size:10px;color:#ffa028;transform:scaleX(0.7214);">Key Events</span>
<span class="t" id="t32" style="left:5px;top:69.98px;font-size:9px;color:#ffffff;font-weight:bold;-webkit-text-stroke:0;transform:scaleX(0.6513);">1D</span>
<span class="t" id="t33" style="left:21px;top:69.98px;font-size:9px;color:#ffffff;font-weight:bold;-webkit-text-stroke:0;transform:scaleX(0.6947);">3D</span>
<span class="t" id="t34" style="left:38px;top:69.98px;font-size:9px;color:#ffffff;font-weight:bold;-webkit-text-stroke:0;transform:scaleX(0.6792);">1M</span>
<span class="t" id="t35" style="left:54.5px;top:69.98px;font-size:9px;color:#ffffff;font-weight:bold;-webkit-text-stroke:0;transform:scaleX(0.6792);">6M</span>
<span class="t" id="t36" style="left:71.5px;top:69.98px;font-size:9px;color:#ffffff;font-weight:bold;-webkit-text-stroke:0;transform:scaleX(0.6667);">YTD</span>
<span class="t" id="t37" style="left:91.5px;top:69.98px;font-size:9px;color:#ffffff;font-weight:bold;-webkit-text-stroke:0;transform:scaleX(0.6809);">1Y</span>
<span class="t" id="t38" style="left:108.5px;top:69.98px;font-size:9px;color:#ffffff;font-weight:bold;-webkit-text-stroke:0;transform:scaleX(0.6809);">5Y</span>
<span class="t" id="t39" style="left:124.5px;top:69.98px;font-size:9px;color:#ffffff;font-weight:bold;-webkit-text-stroke:0;transform:scaleX(0.6851);">Max</span>
<span class="t" id="t40" style="left:144px;top:69.98px;font-size:9px;color:#ffffff;font-weight:bold;-webkit-text-stroke:0;transform:scaleX(0.6739);">Daily</span>
<span class="t" id="t41" style="left:220px;top:69.98px;font-size:9px;color:#ffffff;font-weight:bold;-webkit-text-stroke:0;transform:scaleX(0.7661);">Table</span>
<span class="t" id="t42" style="left:555.5px;top:69.98px;font-size:9px;color:#ffffff;font-weight:bold;-webkit-text-stroke:0;transform:scaleX(0.7060);">Related Data</span>
<span class="t" id="t43" style="left:609.5px;top:69.43px;font-size:10px;color:#b9771a;transform:scaleX(0.6954);">Add Data</span>
<span class="t" id="t44" style="left:692px;top:69.98px;font-size:9px;color:#ffffff;font-weight:bold;-webkit-text-stroke:0;transform:scaleX(0.6858);">Edit Chart</span>
<pre class="f" style="left:74.75px;top:488.25px">Australia 61 2 9777 8600 Brazil 5511 2395 9000 Europe 44 20 7330 7500 Germany 49 69 9204 1210 Hong Kong 852 2977 6000</pre>
<pre class="f" style="left:74.75px;top:494.55px">Japan 81 3 4565 8900      Singapore 65 6212 1000      U.S. 1 212 318 2000       Copyright 2026 Bloomberg Finance L.P.</pre>
<pre class="f" style="left:449.75px;top:500.85px">SN 5189102 EST  GMT-5:00 ba1927-173 25-Jan-2026 16:17:07</pre>
</body></html>
